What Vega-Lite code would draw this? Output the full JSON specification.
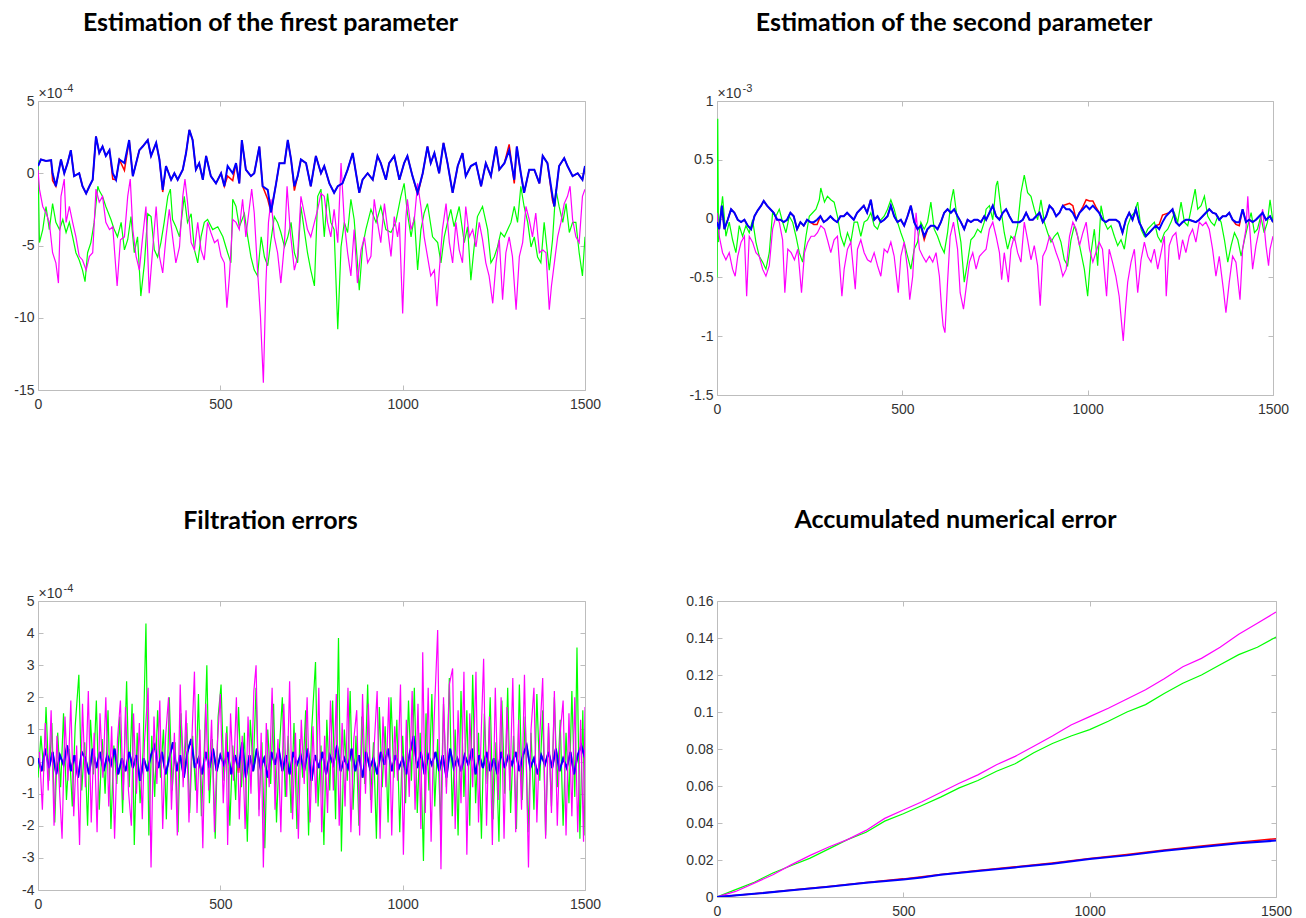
{
"$schema": "https://vega.github.io/schema/vega-lite/v6.json",
"background": "white",
"padding": {"left": 13, "top": 10, "right": 5, "bottom": 5},
"config": {
 "view": {"stroke": "#bdbdbd", "strokeWidth": 1},
 "axis": {"grid": false, "domain": false, "tickColor": "#bdbdbd", "tickSize": -5, "tickWidth": 1, "labelFont": "Liberation Sans", "labelFontSize": 14, "labelColor": "#333333", "labelFlush": false, "labelOverlap": false, "labelBound": false, "titleFont": "Liberation Sans", "titleFontSize": 14, "titleFontWeight": "normal", "titleColor": "#333333"},
 "axisX": {"labelPadding": 12},
 "axisY": {"labelPadding": 9},
 "title": {"font": "Lato", "fontSize": 25, "fontWeight": "bold", "color": "#000000", "anchor": "middle", "frame": "group", "dx": -41}
},
"datasets": {
"A": [
{"s":"r","x":0,"y":0.5},{"s":"r","x":8,"y":0.95},{"s":"r","x":22,"y":0.85},{"s":"r","x":36,"y":0.9},{"s":"r","x":40,"y":-0.5},{"s":"r","x":49,"y":-0.9},{"s":"r","x":63,"y":0.95},{"s":"r","x":72,"y":0},{"s":"r","x":81,"y":0.7},{"s":"r","x":90,"y":1.6},{"s":"r","x":99,"y":-0.2},{"s":"r","x":113,"y":0},{"s":"r","x":122,"y":-0.9},{"s":"r","x":132,"y":-1.4},{"s":"r","x":141,"y":-0.9},{"s":"r","x":150,"y":-0.45},{"s":"r","x":159,"y":2.55},{"s":"r","x":168,"y":1.4},{"s":"r","x":177,"y":1.85},{"s":"r","x":186,"y":1.2},{"s":"r","x":196,"y":1.6},{"s":"r","x":205,"y":-0.4},{"s":"r","x":214,"y":-0.45},{"s":"r","x":223,"y":0.95},{"s":"r","x":237,"y":0.2},{"s":"r","x":250,"y":2.3},{"s":"r","x":260,"y":-0.2},{"s":"r","x":269,"y":0.7},{"s":"r","x":278,"y":1.6},{"s":"r","x":287,"y":1.85},{"s":"r","x":301,"y":2.3},{"s":"r","x":310,"y":1.2},{"s":"r","x":324,"y":2.1},{"s":"r","x":333,"y":0.95},{"s":"r","x":342,"y":-1.3},{"s":"r","x":351,"y":0.5},{"s":"r","x":365,"y":-0.45},{"s":"r","x":374,"y":0},{"s":"r","x":383,"y":-0.45},{"s":"r","x":397,"y":0.25},{"s":"r","x":406,"y":1.4},{"s":"r","x":415,"y":3.0},{"s":"r","x":424,"y":2.3},{"s":"r","x":433,"y":0.25},{"s":"r","x":442,"y":0.7},{"s":"r","x":452,"y":-0.45},{"s":"r","x":461,"y":1.2},{"s":"r","x":474,"y":-0.2},{"s":"r","x":488,"y":-0.7},{"s":"r","x":502,"y":0},{"s":"r","x":511,"y":-0.9},{"s":"r","x":520,"y":-0.2},{"s":"r","x":534,"y":-0.5},{"s":"r","x":543,"y":0.7},{"s":"r","x":552,"y":-0.7},{"s":"r","x":559,"y":2.3},{"s":"r","x":570,"y":0.25},{"s":"r","x":584,"y":-0.2},{"s":"r","x":593,"y":0},{"s":"r","x":607,"y":1.85},{"s":"r","x":616,"y":-0.9},{"s":"r","x":630,"y":-1.8},{"s":"r","x":639,"y":-2.7},{"s":"r","x":653,"y":-0.7},{"s":"r","x":662,"y":0.7},{"s":"r","x":676,"y":0.7},{"s":"r","x":685,"y":2.3},{"s":"r","x":694,"y":0.95},{"s":"r","x":703,"y":-1.2},{"s":"r","x":712,"y":-0.2},{"s":"r","x":721,"y":0.95},{"s":"r","x":735,"y":0.7},{"s":"r","x":748,"y":-0.9},{"s":"r","x":762,"y":1.2},{"s":"r","x":776,"y":0},{"s":"r","x":785,"y":0.5},{"s":"r","x":799,"y":-0.7},{"s":"r","x":812,"y":-1.35},{"s":"r","x":822,"y":-0.9},{"s":"r","x":835,"y":-0.7},{"s":"r","x":849,"y":0.25},{"s":"r","x":863,"y":1.4},{"s":"r","x":872,"y":0},{"s":"r","x":881,"y":-1.35},{"s":"r","x":890,"y":-0.45},{"s":"r","x":904,"y":0},{"s":"r","x":918,"y":-0.45},{"s":"r","x":931,"y":1.2},{"s":"r","x":940,"y":0.7},{"s":"r","x":954,"y":-0.45},{"s":"r","x":963,"y":0.7},{"s":"r","x":977,"y":1.2},{"s":"r","x":991,"y":-0.45},{"s":"r","x":1004,"y":0.7},{"s":"r","x":1013,"y":1.2},{"s":"r","x":1027,"y":-0.2},{"s":"r","x":1041,"y":-1.5},{"s":"r","x":1055,"y":0},{"s":"r","x":1068,"y":1.85},{"s":"r","x":1077,"y":0.7},{"s":"r","x":1087,"y":1.4},{"s":"r","x":1100,"y":0},{"s":"r","x":1112,"y":2.1},{"s":"r","x":1123,"y":0.7},{"s":"r","x":1137,"y":-1.35},{"s":"r","x":1151,"y":0.5},{"s":"r","x":1164,"y":1.4},{"s":"r","x":1173,"y":-0.2},{"s":"r","x":1187,"y":0.5},{"s":"r","x":1201,"y":0.7},{"s":"r","x":1215,"y":-0.9},{"s":"r","x":1228,"y":0.7},{"s":"r","x":1242,"y":-0.2},{"s":"r","x":1256,"y":1.85},{"s":"r","x":1265,"y":0.25},{"s":"r","x":1279,"y":0.7},{"s":"r","x":1292,"y":2.0},{"s":"r","x":1306,"y":-0.7},{"s":"r","x":1313,"y":1.85},{"s":"r","x":1324,"y":0},{"s":"r","x":1333,"y":-1.35},{"s":"r","x":1347,"y":0.25},{"s":"r","x":1361,"y":0.25},{"s":"r","x":1375,"y":-0.7},{"s":"r","x":1384,"y":1.2},{"s":"r","x":1397,"y":0.7},{"s":"r","x":1411,"y":-1.9},{"s":"r","x":1416,"y":-2.3},{"s":"r","x":1429,"y":0.5},{"s":"r","x":1443,"y":1.05},{"s":"r","x":1452,"y":0.5},{"s":"r","x":1466,"y":-0.2},{"s":"r","x":1480,"y":0},{"s":"r","x":1493,"y":-0.45},{"s":"r","x":1500,"y":0.5},
{"s":"g","x":0,"y":0.9},{"s":"g","x":4,"y":-4.8},{"s":"g","x":13,"y":-3.9},{"s":"g","x":22,"y":-2.3},{"s":"g","x":31,"y":-3.9},{"s":"g","x":40,"y":-2.1},{"s":"g","x":49,"y":-3.4},{"s":"g","x":59,"y":-3.9},{"s":"g","x":68,"y":-3.2},{"s":"g","x":77,"y":-4.1},{"s":"g","x":86,"y":-3.4},{"s":"g","x":95,"y":-4.4},{"s":"g","x":104,"y":-5.5},{"s":"g","x":113,"y":-6.0},{"s":"g","x":122,"y":-6.7},{"s":"g","x":129,"y":-7.5},{"s":"g","x":136,"y":-5.5},{"s":"g","x":145,"y":-4.8},{"s":"g","x":154,"y":-3.4},{"s":"g","x":164,"y":-0.9},{"s":"g","x":168,"y":-1.2},{"s":"g","x":177,"y":-1.6},{"s":"g","x":186,"y":-2.3},{"s":"g","x":200,"y":-3.2},{"s":"g","x":209,"y":-3.9},{"s":"g","x":218,"y":-4.4},{"s":"g","x":228,"y":-3.4},{"s":"g","x":237,"y":-5.3},{"s":"g","x":246,"y":-4.6},{"s":"g","x":255,"y":-3.0},{"s":"g","x":264,"y":-5.5},{"s":"g","x":273,"y":-4.4},{"s":"g","x":282,"y":-8.5},{"s":"g","x":292,"y":-6.2},{"s":"g","x":301,"y":-2.8},{"s":"g","x":310,"y":-3.0},{"s":"g","x":319,"y":-5.3},{"s":"g","x":328,"y":-5.8},{"s":"g","x":337,"y":-4.8},{"s":"g","x":346,"y":-3.4},{"s":"g","x":356,"y":-1.6},{"s":"g","x":363,"y":-1.1},{"s":"g","x":369,"y":-3.2},{"s":"g","x":378,"y":-3.7},{"s":"g","x":388,"y":-4.4},{"s":"g","x":401,"y":-1.6},{"s":"g","x":410,"y":-3.4},{"s":"g","x":420,"y":-2.8},{"s":"g","x":429,"y":-5.3},{"s":"g","x":438,"y":-6.2},{"s":"g","x":447,"y":-4.4},{"s":"g","x":456,"y":-3.4},{"s":"g","x":465,"y":-3.2},{"s":"g","x":479,"y":-3.9},{"s":"g","x":493,"y":-3.7},{"s":"g","x":507,"y":-4.4},{"s":"g","x":520,"y":-5.5},{"s":"g","x":529,"y":-6.2},{"s":"g","x":534,"y":-1.8},{"s":"g","x":543,"y":-2.3},{"s":"g","x":552,"y":-3.7},{"s":"g","x":566,"y":-2.8},{"s":"g","x":575,"y":-4.4},{"s":"g","x":584,"y":-5.8},{"s":"g","x":593,"y":-6.7},{"s":"g","x":602,"y":-7.1},{"s":"g","x":612,"y":-4.4},{"s":"g","x":621,"y":-5.8},{"s":"g","x":630,"y":-6.4},{"s":"g","x":639,"y":-4.6},{"s":"g","x":648,"y":-3.0},{"s":"g","x":657,"y":-3.4},{"s":"g","x":666,"y":-4.1},{"s":"g","x":676,"y":-5.1},{"s":"g","x":685,"y":-4.4},{"s":"g","x":694,"y":-3.4},{"s":"g","x":703,"y":-5.5},{"s":"g","x":712,"y":-6.2},{"s":"g","x":721,"y":-2.3},{"s":"g","x":730,"y":-3.9},{"s":"g","x":739,"y":-5.5},{"s":"g","x":748,"y":-6.7},{"s":"g","x":758,"y":-7.8},{"s":"g","x":767,"y":-1.6},{"s":"g","x":776,"y":-1.1},{"s":"g","x":785,"y":-4.4},{"s":"g","x":794,"y":-1.4},{"s":"g","x":803,"y":-3.4},{"s":"g","x":812,"y":-3.9},{"s":"g","x":822,"y":-10.8},{"s":"g","x":831,"y":-5.1},{"s":"g","x":840,"y":-3.4},{"s":"g","x":849,"y":-4.1},{"s":"g","x":858,"y":-1.8},{"s":"g","x":867,"y":-3.2},{"s":"g","x":876,"y":-6.2},{"s":"g","x":881,"y":-8.1},{"s":"g","x":890,"y":-5.1},{"s":"g","x":899,"y":-3.9},{"s":"g","x":913,"y":-2.5},{"s":"g","x":927,"y":-3.4},{"s":"g","x":940,"y":-2.3},{"s":"g","x":954,"y":-3.9},{"s":"g","x":968,"y":-4.1},{"s":"g","x":981,"y":-3.4},{"s":"g","x":995,"y":-1.6},{"s":"g","x":1004,"y":-0.7},{"s":"g","x":1013,"y":-2.75},{"s":"g","x":1023,"y":-4.4},{"s":"g","x":1032,"y":-3.0},{"s":"g","x":1041,"y":-6.7},{"s":"g","x":1050,"y":-3.9},{"s":"g","x":1059,"y":-2.75},{"s":"g","x":1068,"y":-2.1},{"s":"g","x":1082,"y":-4.4},{"s":"g","x":1096,"y":-4.8},{"s":"g","x":1105,"y":-6.2},{"s":"g","x":1114,"y":-4.4},{"s":"g","x":1123,"y":-3.4},{"s":"g","x":1132,"y":-2.5},{"s":"g","x":1141,"y":-3.7},{"s":"g","x":1155,"y":-2.3},{"s":"g","x":1169,"y":-4.8},{"s":"g","x":1178,"y":-3.7},{"s":"g","x":1187,"y":-7.4},{"s":"g","x":1196,"y":-5.1},{"s":"g","x":1205,"y":-3.0},{"s":"g","x":1219,"y":-2.3},{"s":"g","x":1233,"y":-3.9},{"s":"g","x":1242,"y":-6.2},{"s":"g","x":1251,"y":-5.8},{"s":"g","x":1260,"y":-5.1},{"s":"g","x":1269,"y":-4.1},{"s":"g","x":1279,"y":-4.4},{"s":"g","x":1288,"y":-3.9},{"s":"g","x":1297,"y":-3.4},{"s":"g","x":1306,"y":-2.3},{"s":"g","x":1315,"y":-3.4},{"s":"g","x":1324,"y":-0.9},{"s":"g","x":1333,"y":-2.3},{"s":"g","x":1343,"y":-3.4},{"s":"g","x":1352,"y":-5.1},{"s":"g","x":1361,"y":-4.4},{"s":"g","x":1370,"y":-5.8},{"s":"g","x":1379,"y":-6.2},{"s":"g","x":1388,"y":-3.4},{"s":"g","x":1402,"y":-6.7},{"s":"g","x":1411,"y":-4.6},{"s":"g","x":1420,"y":-1.1},{"s":"g","x":1429,"y":-2.3},{"s":"g","x":1439,"y":-3.4},{"s":"g","x":1448,"y":-2.1},{"s":"g","x":1457,"y":-4.1},{"s":"g","x":1466,"y":-3.4},{"s":"g","x":1475,"y":-3.4},{"s":"g","x":1484,"y":-5.5},{"s":"g","x":1493,"y":-7.1},{"s":"g","x":1500,"y":-4.4},
{"s":"m","x":0,"y":0.25},{"s":"m","x":4,"y":-1.1},{"s":"m","x":13,"y":-2.3},{"s":"m","x":22,"y":-2.75},{"s":"m","x":31,"y":-3.4},{"s":"m","x":40,"y":-5.5},{"s":"m","x":49,"y":-6.2},{"s":"m","x":56,"y":-7.6},{"s":"m","x":63,"y":-1.6},{"s":"m","x":72,"y":-0.4},{"s":"m","x":77,"y":-3.4},{"s":"m","x":86,"y":-2.3},{"s":"m","x":95,"y":-3.4},{"s":"m","x":104,"y":-4.4},{"s":"m","x":113,"y":-5.75},{"s":"m","x":122,"y":-6.0},{"s":"m","x":132,"y":-6.7},{"s":"m","x":141,"y":-5.75},{"s":"m","x":150,"y":-5.5},{"s":"m","x":159,"y":-1.1},{"s":"m","x":168,"y":-2.0},{"s":"m","x":177,"y":-1.6},{"s":"m","x":186,"y":-3.4},{"s":"m","x":196,"y":-3.9},{"s":"m","x":205,"y":-3.7},{"s":"m","x":217,"y":-7.8},{"s":"m","x":226,"y":-4.6},{"s":"m","x":237,"y":-4.4},{"s":"m","x":246,"y":-1.6},{"s":"m","x":253,"y":-0.4},{"s":"m","x":260,"y":-3.9},{"s":"m","x":269,"y":-5.75},{"s":"m","x":278,"y":-6.7},{"s":"m","x":287,"y":-4.4},{"s":"m","x":296,"y":-2.3},{"s":"m","x":305,"y":-8.3},{"s":"m","x":315,"y":-5.1},{"s":"m","x":324,"y":-2.3},{"s":"m","x":333,"y":-5.75},{"s":"m","x":342,"y":-6.9},{"s":"m","x":351,"y":-4.4},{"s":"m","x":360,"y":-2.5},{"s":"m","x":369,"y":-4.4},{"s":"m","x":378,"y":-6.2},{"s":"m","x":388,"y":-5.1},{"s":"m","x":397,"y":-1.6},{"s":"m","x":403,"y":-0.4},{"s":"m","x":410,"y":-2.0},{"s":"m","x":420,"y":-4.8},{"s":"m","x":429,"y":-5.3},{"s":"m","x":438,"y":-3.4},{"s":"m","x":447,"y":-5.3},{"s":"m","x":456,"y":-6.0},{"s":"m","x":465,"y":-3.4},{"s":"m","x":474,"y":-4.1},{"s":"m","x":484,"y":-4.8},{"s":"m","x":493,"y":-4.6},{"s":"m","x":502,"y":-5.75},{"s":"m","x":511,"y":-6.2},{"s":"m","x":518,"y":-9.3},{"s":"m","x":525,"y":-7.1},{"s":"m","x":534,"y":-3.2},{"s":"m","x":543,"y":-3.4},{"s":"m","x":552,"y":-3.9},{"s":"m","x":561,"y":-1.8},{"s":"m","x":570,"y":-4.4},{"s":"m","x":580,"y":-2.3},{"s":"m","x":586,"y":-1.1},{"s":"m","x":593,"y":-2.75},{"s":"m","x":602,"y":-6.7},{"s":"m","x":610,"y":-9.9},{"s":"m","x":618,"y":-14.5},{"s":"m","x":625,"y":-7.6},{"s":"m","x":632,"y":-3.4},{"s":"m","x":639,"y":-1.8},{"s":"m","x":648,"y":-4.4},{"s":"m","x":657,"y":-5.5},{"s":"m","x":666,"y":-7.6},{"s":"m","x":676,"y":-4.8},{"s":"m","x":683,"y":-0.9},{"s":"m","x":692,"y":-4.1},{"s":"m","x":703,"y":-6.7},{"s":"m","x":712,"y":-5.75},{"s":"m","x":721,"y":-1.6},{"s":"m","x":730,"y":-2.75},{"s":"m","x":739,"y":-3.9},{"s":"m","x":748,"y":-4.4},{"s":"m","x":758,"y":-3.4},{"s":"m","x":767,"y":-2.5},{"s":"m","x":776,"y":-1.4},{"s":"m","x":785,"y":-1.6},{"s":"m","x":794,"y":-3.4},{"s":"m","x":803,"y":-4.4},{"s":"m","x":812,"y":-2.5},{"s":"m","x":822,"y":-4.8},{"s":"m","x":831,"y":0.7},{"s":"m","x":840,"y":-3.4},{"s":"m","x":849,"y":-5.5},{"s":"m","x":858,"y":-7.1},{"s":"m","x":867,"y":-3.9},{"s":"m","x":876,"y":-7.6},{"s":"m","x":886,"y":-5.3},{"s":"m","x":895,"y":-4.4},{"s":"m","x":904,"y":-6.2},{"s":"m","x":913,"y":-5.75},{"s":"m","x":922,"y":-1.8},{"s":"m","x":931,"y":-3.4},{"s":"m","x":940,"y":-4.8},{"s":"m","x":950,"y":-2.1},{"s":"m","x":959,"y":-3.9},{"s":"m","x":968,"y":-5.75},{"s":"m","x":977,"y":-3.0},{"s":"m","x":986,"y":-4.4},{"s":"m","x":991,"y":-3.4},{"s":"m","x":1000,"y":-9.7},{"s":"m","x":1009,"y":-3.0},{"s":"m","x":1013,"y":-1.8},{"s":"m","x":1023,"y":-3.9},{"s":"m","x":1032,"y":-3.2},{"s":"m","x":1041,"y":-0.7},{"s":"m","x":1050,"y":-2.3},{"s":"m","x":1059,"y":-4.4},{"s":"m","x":1068,"y":-5.75},{"s":"m","x":1077,"y":-7.1},{"s":"m","x":1087,"y":-6.7},{"s":"m","x":1094,"y":-9.2},{"s":"m","x":1100,"y":-6.9},{"s":"m","x":1109,"y":-3.9},{"s":"m","x":1119,"y":-2.1},{"s":"m","x":1128,"y":-4.8},{"s":"m","x":1137,"y":-6.2},{"s":"m","x":1146,"y":-3.4},{"s":"m","x":1155,"y":-5.3},{"s":"m","x":1164,"y":-6.2},{"s":"m","x":1173,"y":-2.3},{"s":"m","x":1183,"y":-4.4},{"s":"m","x":1192,"y":-3.9},{"s":"m","x":1201,"y":-5.1},{"s":"m","x":1210,"y":-3.4},{"s":"m","x":1219,"y":-4.6},{"s":"m","x":1228,"y":-6.2},{"s":"m","x":1237,"y":-7.1},{"s":"m","x":1247,"y":-9.0},{"s":"m","x":1256,"y":-6.2},{"s":"m","x":1265,"y":-4.6},{"s":"m","x":1274,"y":-8.75},{"s":"m","x":1283,"y":-5.5},{"s":"m","x":1292,"y":-4.4},{"s":"m","x":1301,"y":-5.75},{"s":"m","x":1311,"y":-9.45},{"s":"m","x":1320,"y":-5.75},{"s":"m","x":1329,"y":-4.8},{"s":"m","x":1338,"y":-2.3},{"s":"m","x":1347,"y":-3.2},{"s":"m","x":1356,"y":-4.4},{"s":"m","x":1365,"y":-2.75},{"s":"m","x":1375,"y":-5.5},{"s":"m","x":1384,"y":-5.3},{"s":"m","x":1393,"y":-5.5},{"s":"m","x":1402,"y":-9.45},{"s":"m","x":1408,"y":-7.8},{"s":"m","x":1416,"y":-6.2},{"s":"m","x":1425,"y":-4.4},{"s":"m","x":1434,"y":-3.4},{"s":"m","x":1443,"y":-2.1},{"s":"m","x":1452,"y":-1.6},{"s":"m","x":1459,"y":-0.9},{"s":"m","x":1466,"y":-3.2},{"s":"m","x":1475,"y":-4.4},{"s":"m","x":1484,"y":-4.8},{"s":"m","x":1493,"y":-1.6},{"s":"m","x":1500,"y":-1.1},
{"s":"b","x":0,"y":0.5},{"s":"b","x":8,"y":0.95},{"s":"b","x":22,"y":0.85},{"s":"b","x":36,"y":0.9},{"s":"b","x":40,"y":0},{"s":"b","x":49,"y":-0.9},{"s":"b","x":63,"y":0.95},{"s":"b","x":72,"y":0},{"s":"b","x":81,"y":0.7},{"s":"b","x":90,"y":1.6},{"s":"b","x":99,"y":-0.2},{"s":"b","x":113,"y":0},{"s":"b","x":122,"y":-0.9},{"s":"b","x":132,"y":-1.4},{"s":"b","x":141,"y":-0.9},{"s":"b","x":150,"y":-0.45},{"s":"b","x":159,"y":2.55},{"s":"b","x":168,"y":1.4},{"s":"b","x":177,"y":1.85},{"s":"b","x":186,"y":1.2},{"s":"b","x":196,"y":1.6},{"s":"b","x":205,"y":0},{"s":"b","x":214,"y":-0.45},{"s":"b","x":223,"y":0.95},{"s":"b","x":237,"y":0.7},{"s":"b","x":250,"y":2.3},{"s":"b","x":260,"y":-0.2},{"s":"b","x":269,"y":0.7},{"s":"b","x":278,"y":1.6},{"s":"b","x":287,"y":1.85},{"s":"b","x":301,"y":2.3},{"s":"b","x":310,"y":1.2},{"s":"b","x":324,"y":2.1},{"s":"b","x":333,"y":0.95},{"s":"b","x":342,"y":-1.15},{"s":"b","x":351,"y":0.5},{"s":"b","x":365,"y":-0.45},{"s":"b","x":374,"y":0},{"s":"b","x":383,"y":-0.45},{"s":"b","x":397,"y":0.25},{"s":"b","x":406,"y":1.4},{"s":"b","x":415,"y":3.0},{"s":"b","x":424,"y":2.3},{"s":"b","x":433,"y":0.25},{"s":"b","x":442,"y":0.7},{"s":"b","x":452,"y":-0.45},{"s":"b","x":461,"y":1.2},{"s":"b","x":474,"y":-0.2},{"s":"b","x":488,"y":-0.7},{"s":"b","x":502,"y":0},{"s":"b","x":511,"y":-0.9},{"s":"b","x":520,"y":0.5},{"s":"b","x":534,"y":0},{"s":"b","x":543,"y":0.7},{"s":"b","x":552,"y":-0.7},{"s":"b","x":559,"y":2.3},{"s":"b","x":570,"y":0.25},{"s":"b","x":584,"y":-0.2},{"s":"b","x":593,"y":0},{"s":"b","x":607,"y":1.85},{"s":"b","x":616,"y":-0.9},{"s":"b","x":630,"y":-1.15},{"s":"b","x":639,"y":-2.7},{"s":"b","x":653,"y":-0.7},{"s":"b","x":662,"y":0.7},{"s":"b","x":676,"y":0.7},{"s":"b","x":685,"y":2.3},{"s":"b","x":694,"y":0.95},{"s":"b","x":703,"y":-0.9},{"s":"b","x":712,"y":-0.2},{"s":"b","x":721,"y":0.95},{"s":"b","x":735,"y":0.7},{"s":"b","x":748,"y":-0.9},{"s":"b","x":762,"y":1.2},{"s":"b","x":776,"y":0},{"s":"b","x":785,"y":0.5},{"s":"b","x":799,"y":-0.7},{"s":"b","x":812,"y":-1.35},{"s":"b","x":822,"y":-0.9},{"s":"b","x":835,"y":-0.7},{"s":"b","x":849,"y":0.25},{"s":"b","x":863,"y":1.4},{"s":"b","x":872,"y":0},{"s":"b","x":881,"y":-1.35},{"s":"b","x":890,"y":-0.45},{"s":"b","x":904,"y":0},{"s":"b","x":918,"y":-0.45},{"s":"b","x":931,"y":1.2},{"s":"b","x":940,"y":0.7},{"s":"b","x":954,"y":-0.45},{"s":"b","x":963,"y":0.7},{"s":"b","x":977,"y":1.2},{"s":"b","x":991,"y":-0.45},{"s":"b","x":1004,"y":0.7},{"s":"b","x":1013,"y":1.2},{"s":"b","x":1027,"y":-0.2},{"s":"b","x":1041,"y":-1.35},{"s":"b","x":1055,"y":0},{"s":"b","x":1068,"y":1.85},{"s":"b","x":1077,"y":0.7},{"s":"b","x":1087,"y":1.4},{"s":"b","x":1100,"y":0},{"s":"b","x":1112,"y":2.1},{"s":"b","x":1123,"y":0.7},{"s":"b","x":1137,"y":-1.35},{"s":"b","x":1151,"y":0.5},{"s":"b","x":1164,"y":1.4},{"s":"b","x":1173,"y":-0.2},{"s":"b","x":1187,"y":0.5},{"s":"b","x":1201,"y":0.7},{"s":"b","x":1215,"y":-0.9},{"s":"b","x":1228,"y":0.7},{"s":"b","x":1242,"y":-0.2},{"s":"b","x":1256,"y":1.85},{"s":"b","x":1265,"y":0.25},{"s":"b","x":1279,"y":0.7},{"s":"b","x":1292,"y":1.6},{"s":"b","x":1306,"y":-0.45},{"s":"b","x":1313,"y":1.85},{"s":"b","x":1324,"y":0},{"s":"b","x":1333,"y":-1.35},{"s":"b","x":1347,"y":0.25},{"s":"b","x":1361,"y":0.25},{"s":"b","x":1375,"y":-0.7},{"s":"b","x":1384,"y":1.2},{"s":"b","x":1397,"y":0.7},{"s":"b","x":1411,"y":-1.6},{"s":"b","x":1416,"y":-2.3},{"s":"b","x":1429,"y":0.5},{"s":"b","x":1443,"y":1.05},{"s":"b","x":1452,"y":0.5},{"s":"b","x":1466,"y":-0.2},{"s":"b","x":1480,"y":0},{"s":"b","x":1493,"y":-0.45},{"s":"b","x":1500,"y":0.5}
],
"B": [
{"s":"r","x":0,"y":-0.03},{"s":"r","x":6,"y":-0.09},{"s":"r","x":13,"y":0.11},{"s":"r","x":20,"y":-0.09},{"s":"r","x":29,"y":-0.01},{"s":"r","x":38,"y":0.08},{"s":"r","x":47,"y":0.05},{"s":"r","x":56,"y":-0.01},{"s":"r","x":65,"y":-0.03},{"s":"r","x":74,"y":-0.01},{"s":"r","x":83,"y":-0.06},{"s":"r","x":92,"y":-0.09},{"s":"r","x":101,"y":0.02},{"s":"r","x":110,"y":0.07},{"s":"r","x":119,"y":0.11},{"s":"r","x":126,"y":0.15},{"s":"r","x":135,"y":0.11},{"s":"r","x":144,"y":0.08},{"s":"r","x":153,"y":0.05},{"s":"r","x":162,"y":-0.01},{"s":"r","x":171,"y":-0.01},{"s":"r","x":180,"y":-0.03},{"s":"r","x":189,"y":-0.01},{"s":"r","x":198,"y":0.05},{"s":"r","x":207,"y":0.02},{"s":"r","x":216,"y":-0.09},{"s":"r","x":225,"y":-0.03},{"s":"r","x":234,"y":-0.06},{"s":"r","x":243,"y":-0.01},{"s":"r","x":252,"y":-0.03},{"s":"r","x":261,"y":-0.05},{"s":"r","x":270,"y":-0.05},{"s":"r","x":279,"y":0.02},{"s":"r","x":288,"y":-0.03},{"s":"r","x":297,"y":-0.01},{"s":"r","x":306,"y":0.02},{"s":"r","x":315,"y":-0.01},{"s":"r","x":324,"y":-0.03},{"s":"r","x":333,"y":0.02},{"s":"r","x":342,"y":0.02},{"s":"r","x":351,"y":0.05},{"s":"r","x":360,"y":0.02},{"s":"r","x":369,"y":-0.01},{"s":"r","x":378,"y":0.05},{"s":"r","x":387,"y":0.08},{"s":"r","x":396,"y":0.11},{"s":"r","x":405,"y":0.05},{"s":"r","x":415,"y":0.16},{"s":"r","x":424,"y":-0.01},{"s":"r","x":433,"y":0.02},{"s":"r","x":442,"y":-0.03},{"s":"r","x":451,"y":-0.01},{"s":"r","x":460,"y":0.02},{"s":"r","x":469,"y":0.11},{"s":"r","x":478,"y":0.02},{"s":"r","x":487,"y":-0.03},{"s":"r","x":496,"y":-0.01},{"s":"r","x":505,"y":-0.06},{"s":"r","x":514,"y":0.02},{"s":"r","x":523,"y":0.11},{"s":"r","x":532,"y":-0.03},{"s":"r","x":541,"y":-0.09},{"s":"r","x":550,"y":-0.06},{"s":"r","x":559,"y":-0.18},{"s":"r","x":568,"y":-0.09},{"s":"r","x":577,"y":-0.06},{"s":"r","x":586,"y":-0.06},{"s":"r","x":595,"y":-0.09},{"s":"r","x":604,"y":-0.03},{"s":"r","x":613,"y":0.05},{"s":"r","x":622,"y":0.08},{"s":"r","x":631,"y":0.05},{"s":"r","x":640,"y":0.08},{"s":"r","x":649,"y":0.02},{"s":"r","x":658,"y":-0.03},{"s":"r","x":667,"y":-0.09},{"s":"r","x":676,"y":-0.01},{"s":"r","x":685,"y":-0.03},{"s":"r","x":694,"y":-0.01},{"s":"r","x":703,"y":-0.01},{"s":"r","x":712,"y":-0.03},{"s":"r","x":721,"y":0.02},{"s":"r","x":726,"y":-0.01},{"s":"r","x":735,"y":0.05},{"s":"r","x":744,"y":0.11},{"s":"r","x":753,"y":0.02},{"s":"r","x":762,"y":-0.01},{"s":"r","x":771,"y":0.05},{"s":"r","x":780,"y":0.08},{"s":"r","x":789,"y":0.02},{"s":"r","x":798,"y":-0.03},{"s":"r","x":807,"y":-0.03},{"s":"r","x":816,"y":-0.03},{"s":"r","x":825,"y":-0.01},{"s":"r","x":834,"y":0.05},{"s":"r","x":843,"y":-0.01},{"s":"r","x":852,"y":-0.01},{"s":"r","x":861,"y":0.02},{"s":"r","x":870,"y":0.05},{"s":"r","x":879,"y":-0.03},{"s":"r","x":888,"y":0.02},{"s":"r","x":897,"y":0.11},{"s":"r","x":906,"y":0.08},{"s":"r","x":915,"y":0.02},{"s":"r","x":924,"y":0.05},{"s":"r","x":933,"y":0.11},{"s":"r","x":942,"y":0.12},{"s":"r","x":951,"y":0.13},{"s":"r","x":960,"y":0.11},{"s":"r","x":969,"y":-0.01},{"s":"r","x":978,"y":0.05},{"s":"r","x":987,"y":0.1},{"s":"r","x":996,"y":0.16},{"s":"r","x":1005,"y":0.15},{"s":"r","x":1014,"y":0.15},{"s":"r","x":1022,"y":0.1},{"s":"r","x":1031,"y":0.05},{"s":"r","x":1040,"y":-0.01},{"s":"r","x":1049,"y":-0.03},{"s":"r","x":1058,"y":-0.01},{"s":"r","x":1067,"y":-0.01},{"s":"r","x":1076,"y":-0.01},{"s":"r","x":1085,"y":-0.03},{"s":"r","x":1094,"y":-0.12},{"s":"r","x":1103,"y":-0.01},{"s":"r","x":1112,"y":0.05},{"s":"r","x":1121,"y":-0.01},{"s":"r","x":1130,"y":0.08},{"s":"r","x":1139,"y":-0.03},{"s":"r","x":1148,"y":-0.09},{"s":"r","x":1157,"y":-0.15},{"s":"r","x":1166,"y":-0.12},{"s":"r","x":1175,"y":-0.09},{"s":"r","x":1184,"y":-0.06},{"s":"r","x":1193,"y":-0.05},{"s":"r","x":1202,"y":0.03},{"s":"r","x":1211,"y":0.04},{"s":"r","x":1220,"y":0.05},{"s":"r","x":1229,"y":0.08},{"s":"r","x":1238,"y":-0.03},{"s":"r","x":1247,"y":-0.06},{"s":"r","x":1256,"y":-0.03},{"s":"r","x":1265,"y":-0.01},{"s":"r","x":1274,"y":-0.01},{"s":"r","x":1283,"y":-0.02},{"s":"r","x":1292,"y":-0.03},{"s":"r","x":1301,"y":-0.01},{"s":"r","x":1310,"y":0.02},{"s":"r","x":1319,"y":0.05},{"s":"r","x":1328,"y":0.08},{"s":"r","x":1337,"y":0.05},{"s":"r","x":1346,"y":0.04},{"s":"r","x":1355,"y":-0.01},{"s":"r","x":1364,"y":0.02},{"s":"r","x":1373,"y":0.02},{"s":"r","x":1382,"y":0.05},{"s":"r","x":1391,"y":-0.01},{"s":"r","x":1400,"y":-0.05},{"s":"r","x":1409,"y":-0.06},{"s":"r","x":1418,"y":0.08},{"s":"r","x":1427,"y":-0.03},{"s":"r","x":1436,"y":-0.01},{"s":"r","x":1445,"y":-0.03},{"s":"r","x":1454,"y":-0.01},{"s":"r","x":1463,"y":0.02},{"s":"r","x":1472,"y":0.05},{"s":"r","x":1481,"y":-0.01},{"s":"r","x":1492,"y":0.02},{"s":"r","x":1500,"y":-0.03},
{"s":"g","x":0,"y":-0.5},{"s":"g","x":2,"y":0.85},{"s":"g","x":4,"y":-0.2},{"s":"g","x":6,"y":-0.06},{"s":"g","x":15,"y":0.19},{"s":"g","x":24,"y":-0.15},{"s":"g","x":33,"y":-0.03},{"s":"g","x":42,"y":-0.18},{"s":"g","x":51,"y":-0.29},{"s":"g","x":60,"y":-0.06},{"s":"g","x":69,"y":-0.15},{"s":"g","x":78,"y":-0.06},{"s":"g","x":87,"y":-0.12},{"s":"g","x":96,"y":-0.01},{"s":"g","x":105,"y":-0.2},{"s":"g","x":114,"y":-0.32},{"s":"g","x":123,"y":-0.37},{"s":"g","x":132,"y":-0.43},{"s":"g","x":141,"y":-0.29},{"s":"g","x":150,"y":0.05},{"s":"g","x":159,"y":0.02},{"s":"g","x":168,"y":0.08},{"s":"g","x":177,"y":-0.03},{"s":"g","x":186,"y":-0.12},{"s":"g","x":195,"y":0.02},{"s":"g","x":204,"y":-0.03},{"s":"g","x":213,"y":-0.15},{"s":"g","x":222,"y":-0.29},{"s":"g","x":231,"y":-0.37},{"s":"g","x":240,"y":-0.15},{"s":"g","x":249,"y":0.02},{"s":"g","x":258,"y":0.05},{"s":"g","x":267,"y":0.08},{"s":"g","x":276,"y":0.16},{"s":"g","x":280,"y":0.26},{"s":"g","x":290,"y":0.14},{"s":"g","x":298,"y":0.19},{"s":"g","x":307,"y":0.16},{"s":"g","x":316,"y":0.14},{"s":"g","x":325,"y":0.02},{"s":"g","x":334,"y":-0.15},{"s":"g","x":343,"y":-0.23},{"s":"g","x":352,"y":-0.12},{"s":"g","x":361,"y":-0.2},{"s":"g","x":370,"y":-0.03},{"s":"g","x":379,"y":-0.03},{"s":"g","x":388,"y":-0.15},{"s":"g","x":397,"y":-0.03},{"s":"g","x":406,"y":-0.01},{"s":"g","x":415,"y":0.05},{"s":"g","x":424,"y":-0.06},{"s":"g","x":433,"y":-0.09},{"s":"g","x":442,"y":-0.01},{"s":"g","x":451,"y":0.02},{"s":"g","x":460,"y":0.08},{"s":"g","x":469,"y":0.16},{"s":"g","x":478,"y":0.08},{"s":"g","x":487,"y":-0.03},{"s":"g","x":496,"y":-0.12},{"s":"g","x":505,"y":-0.2},{"s":"g","x":514,"y":-0.32},{"s":"g","x":523,"y":-0.43},{"s":"g","x":532,"y":-0.26},{"s":"g","x":541,"y":-0.2},{"s":"g","x":550,"y":-0.03},{"s":"g","x":559,"y":-0.09},{"s":"g","x":568,"y":-0.03},{"s":"g","x":577,"y":0.14},{"s":"g","x":586,"y":-0.09},{"s":"g","x":595,"y":-0.15},{"s":"g","x":604,"y":-0.23},{"s":"g","x":613,"y":-0.29},{"s":"g","x":622,"y":-0.12},{"s":"g","x":631,"y":0.14},{"s":"g","x":638,"y":0.25},{"s":"g","x":649,"y":-0.03},{"s":"g","x":658,"y":-0.2},{"s":"g","x":667,"y":-0.54},{"s":"g","x":676,"y":-0.37},{"s":"g","x":685,"y":-0.18},{"s":"g","x":694,"y":-0.15},{"s":"g","x":703,"y":-0.09},{"s":"g","x":712,"y":-0.12},{"s":"g","x":721,"y":-0.03},{"s":"g","x":726,"y":0.08},{"s":"g","x":735,"y":0.11},{"s":"g","x":744,"y":-0.01},{"s":"g","x":753,"y":0.28},{"s":"g","x":757,"y":0.32},{"s":"g","x":766,"y":0.08},{"s":"g","x":775,"y":-0.12},{"s":"g","x":784,"y":-0.26},{"s":"g","x":793,"y":-0.15},{"s":"g","x":802,"y":-0.18},{"s":"g","x":811,"y":-0.06},{"s":"g","x":820,"y":0.22},{"s":"g","x":829,"y":0.37},{"s":"g","x":838,"y":0.22},{"s":"g","x":847,"y":0.19},{"s":"g","x":856,"y":0.08},{"s":"g","x":865,"y":-0.01},{"s":"g","x":874,"y":0.16},{"s":"g","x":883,"y":-0.03},{"s":"g","x":892,"y":-0.12},{"s":"g","x":901,"y":-0.2},{"s":"g","x":910,"y":-0.15},{"s":"g","x":919,"y":-0.12},{"s":"g","x":928,"y":-0.2},{"s":"g","x":937,"y":-0.35},{"s":"g","x":946,"y":-0.4},{"s":"g","x":955,"y":-0.18},{"s":"g","x":964,"y":-0.06},{"s":"g","x":973,"y":-0.15},{"s":"g","x":982,"y":-0.29},{"s":"g","x":991,"y":-0.43},{"s":"g","x":1000,"y":-0.66},{"s":"g","x":1009,"y":-0.29},{"s":"g","x":1018,"y":-0.09},{"s":"g","x":1027,"y":-0.4},{"s":"g","x":1036,"y":0.11},{"s":"g","x":1045,"y":-0.03},{"s":"g","x":1054,"y":-0.09},{"s":"g","x":1063,"y":-0.06},{"s":"g","x":1072,"y":-0.15},{"s":"g","x":1081,"y":-0.23},{"s":"g","x":1090,"y":-0.18},{"s":"g","x":1099,"y":-0.26},{"s":"g","x":1108,"y":-0.06},{"s":"g","x":1117,"y":0.02},{"s":"g","x":1126,"y":0.05},{"s":"g","x":1135,"y":0.14},{"s":"g","x":1144,"y":-0.09},{"s":"g","x":1153,"y":-0.15},{"s":"g","x":1162,"y":-0.09},{"s":"g","x":1171,"y":-0.06},{"s":"g","x":1180,"y":-0.03},{"s":"g","x":1189,"y":-0.15},{"s":"g","x":1198,"y":-0.2},{"s":"g","x":1207,"y":-0.12},{"s":"g","x":1216,"y":-0.09},{"s":"g","x":1225,"y":-0.03},{"s":"g","x":1234,"y":0.05},{"s":"g","x":1243,"y":-0.03},{"s":"g","x":1252,"y":0.14},{"s":"g","x":1261,"y":-0.03},{"s":"g","x":1270,"y":-0.06},{"s":"g","x":1279,"y":0.08},{"s":"g","x":1290,"y":0.25},{"s":"g","x":1297,"y":0.08},{"s":"g","x":1306,"y":0.11},{"s":"g","x":1315,"y":0.19},{"s":"g","x":1324,"y":0.02},{"s":"g","x":1333,"y":-0.03},{"s":"g","x":1342,"y":-0.06},{"s":"g","x":1351,"y":0.02},{"s":"g","x":1360,"y":-0.03},{"s":"g","x":1369,"y":-0.18},{"s":"g","x":1378,"y":-0.37},{"s":"g","x":1387,"y":-0.23},{"s":"g","x":1396,"y":-0.12},{"s":"g","x":1405,"y":-0.18},{"s":"g","x":1414,"y":-0.32},{"s":"g","x":1423,"y":-0.18},{"s":"g","x":1432,"y":-0.06},{"s":"g","x":1441,"y":0.05},{"s":"g","x":1450,"y":-0.12},{"s":"g","x":1458,"y":-0.09},{"s":"g","x":1467,"y":0.02},{"s":"g","x":1476,"y":-0.12},{"s":"g","x":1485,"y":-0.03},{"s":"g","x":1492,"y":0.16},{"s":"g","x":1500,"y":-0.03},
{"s":"m","x":0,"y":0.05},{"s":"m","x":6,"y":-0.15},{"s":"m","x":15,"y":-0.29},{"s":"m","x":24,"y":-0.35},{"s":"m","x":33,"y":-0.29},{"s":"m","x":42,"y":-0.43},{"s":"m","x":49,"y":-0.49},{"s":"m","x":56,"y":-0.32},{"s":"m","x":65,"y":-0.2},{"s":"m","x":74,"y":-0.15},{"s":"m","x":80,"y":-0.66},{"s":"m","x":87,"y":-0.15},{"s":"m","x":96,"y":-0.2},{"s":"m","x":105,"y":-0.29},{"s":"m","x":114,"y":-0.32},{"s":"m","x":123,"y":-0.43},{"s":"m","x":132,"y":-0.49},{"s":"m","x":141,"y":-0.4},{"s":"m","x":150,"y":-0.09},{"s":"m","x":159,"y":0.02},{"s":"m","x":168,"y":-0.03},{"s":"m","x":177,"y":-0.18},{"s":"m","x":183,"y":-0.63},{"s":"m","x":191,"y":-0.26},{"s":"m","x":200,"y":-0.29},{"s":"m","x":209,"y":-0.35},{"s":"m","x":218,"y":-0.26},{"s":"m","x":228,"y":-0.63},{"s":"m","x":236,"y":-0.29},{"s":"m","x":245,"y":-0.2},{"s":"m","x":254,"y":-0.15},{"s":"m","x":263,"y":-0.15},{"s":"m","x":271,"y":-0.12},{"s":"m","x":280,"y":-0.06},{"s":"m","x":290,"y":-0.09},{"s":"m","x":298,"y":-0.18},{"s":"m","x":307,"y":-0.29},{"s":"m","x":316,"y":-0.18},{"s":"m","x":325,"y":-0.15},{"s":"m","x":337,"y":-0.66},{"s":"m","x":343,"y":-0.43},{"s":"m","x":352,"y":-0.26},{"s":"m","x":361,"y":-0.2},{"s":"m","x":373,"y":-0.6},{"s":"m","x":379,"y":-0.26},{"s":"m","x":388,"y":-0.18},{"s":"m","x":397,"y":-0.29},{"s":"m","x":406,"y":-0.35},{"s":"m","x":415,"y":-0.37},{"s":"m","x":424,"y":-0.29},{"s":"m","x":433,"y":-0.4},{"s":"m","x":442,"y":-0.49},{"s":"m","x":451,"y":-0.26},{"s":"m","x":460,"y":-0.29},{"s":"m","x":469,"y":-0.2},{"s":"m","x":478,"y":-0.32},{"s":"m","x":489,"y":-0.63},{"s":"m","x":496,"y":-0.32},{"s":"m","x":505,"y":-0.2},{"s":"m","x":514,"y":-0.43},{"s":"m","x":520,"y":-0.69},{"s":"m","x":528,"y":-0.49},{"s":"m","x":537,"y":0.05},{"s":"m","x":546,"y":-0.26},{"s":"m","x":555,"y":-0.32},{"s":"m","x":564,"y":-0.37},{"s":"m","x":573,"y":-0.32},{"s":"m","x":582,"y":-0.37},{"s":"m","x":591,"y":-0.29},{"s":"m","x":600,"y":-0.49},{"s":"m","x":606,"y":-0.77},{"s":"m","x":610,"y":-0.91},{"s":"m","x":615,"y":-0.97},{"s":"m","x":622,"y":-0.54},{"s":"m","x":629,"y":-0.15},{"s":"m","x":638,"y":-0.03},{"s":"m","x":649,"y":-0.26},{"s":"m","x":656,"y":-0.63},{"s":"m","x":665,"y":-0.77},{"s":"m","x":674,"y":-0.54},{"s":"m","x":681,"y":-0.37},{"s":"m","x":690,"y":-0.29},{"s":"m","x":699,"y":-0.43},{"s":"m","x":708,"y":-0.32},{"s":"m","x":717,"y":-0.29},{"s":"m","x":726,"y":-0.26},{"s":"m","x":735,"y":-0.09},{"s":"m","x":744,"y":-0.03},{"s":"m","x":753,"y":-0.15},{"s":"m","x":762,"y":-0.29},{"s":"m","x":768,"y":-0.52},{"s":"m","x":775,"y":-0.29},{"s":"m","x":786,"y":-0.54},{"s":"m","x":793,"y":-0.26},{"s":"m","x":802,"y":-0.15},{"s":"m","x":811,"y":-0.29},{"s":"m","x":820,"y":-0.37},{"s":"m","x":829,"y":-0.03},{"s":"m","x":838,"y":-0.18},{"s":"m","x":847,"y":-0.35},{"s":"m","x":856,"y":-0.23},{"s":"m","x":865,"y":-0.4},{"s":"m","x":872,"y":-0.74},{"s":"m","x":879,"y":-0.32},{"s":"m","x":888,"y":-0.26},{"s":"m","x":897,"y":-0.15},{"s":"m","x":906,"y":-0.2},{"s":"m","x":915,"y":-0.29},{"s":"m","x":924,"y":-0.37},{"s":"m","x":933,"y":-0.49},{"s":"m","x":942,"y":-0.43},{"s":"m","x":951,"y":-0.15},{"s":"m","x":960,"y":-0.03},{"s":"m","x":969,"y":-0.09},{"s":"m","x":978,"y":-0.23},{"s":"m","x":987,"y":-0.12},{"s":"m","x":996,"y":-0.03},{"s":"m","x":1005,"y":-0.26},{"s":"m","x":1014,"y":-0.37},{"s":"m","x":1022,"y":-0.29},{"s":"m","x":1031,"y":-0.2},{"s":"m","x":1040,"y":-0.26},{"s":"m","x":1051,"y":-0.66},{"s":"m","x":1058,"y":-0.26},{"s":"m","x":1067,"y":-0.37},{"s":"m","x":1076,"y":-0.49},{"s":"m","x":1085,"y":-0.66},{"s":"m","x":1093,"y":-0.94},{"s":"m","x":1096,"y":-1.04},{"s":"m","x":1102,"y":-0.77},{"s":"m","x":1108,"y":-0.54},{"s":"m","x":1117,"y":-0.37},{"s":"m","x":1126,"y":-0.26},{"s":"m","x":1135,"y":-0.63},{"s":"m","x":1144,"y":-0.35},{"s":"m","x":1153,"y":-0.2},{"s":"m","x":1162,"y":-0.32},{"s":"m","x":1171,"y":-0.37},{"s":"m","x":1180,"y":-0.26},{"s":"m","x":1189,"y":-0.43},{"s":"m","x":1198,"y":-0.29},{"s":"m","x":1207,"y":-0.15},{"s":"m","x":1212,"y":-0.66},{"s":"m","x":1220,"y":-0.23},{"s":"m","x":1229,"y":-0.15},{"s":"m","x":1238,"y":-0.12},{"s":"m","x":1247,"y":-0.35},{"s":"m","x":1256,"y":-0.18},{"s":"m","x":1265,"y":-0.29},{"s":"m","x":1274,"y":-0.15},{"s":"m","x":1283,"y":-0.09},{"s":"m","x":1292,"y":-0.2},{"s":"m","x":1301,"y":-0.03},{"s":"m","x":1310,"y":-0.06},{"s":"m","x":1319,"y":-0.03},{"s":"m","x":1328,"y":-0.09},{"s":"m","x":1337,"y":-0.26},{"s":"m","x":1346,"y":-0.49},{"s":"m","x":1355,"y":-0.32},{"s":"m","x":1366,"y":-0.6},{"s":"m","x":1373,"y":-0.8},{"s":"m","x":1382,"y":-0.54},{"s":"m","x":1391,"y":-0.32},{"s":"m","x":1400,"y":-0.37},{"s":"m","x":1411,"y":-0.69},{"s":"m","x":1418,"y":-0.26},{"s":"m","x":1427,"y":-0.09},{"s":"m","x":1432,"y":0.19},{"s":"m","x":1436,"y":-0.03},{"s":"m","x":1445,"y":-0.43},{"s":"m","x":1454,"y":-0.23},{"s":"m","x":1463,"y":-0.09},{"s":"m","x":1472,"y":0.08},{"s":"m","x":1481,"y":-0.23},{"s":"m","x":1488,"y":-0.4},{"s":"m","x":1492,"y":-0.26},{"s":"m","x":1500,"y":-0.15},
{"s":"b","x":0,"y":-0.03},{"s":"b","x":6,"y":-0.09},{"s":"b","x":13,"y":0.11},{"s":"b","x":20,"y":-0.09},{"s":"b","x":29,"y":-0.01},{"s":"b","x":38,"y":0.08},{"s":"b","x":47,"y":0.05},{"s":"b","x":56,"y":-0.01},{"s":"b","x":65,"y":-0.03},{"s":"b","x":74,"y":-0.01},{"s":"b","x":83,"y":-0.06},{"s":"b","x":92,"y":-0.09},{"s":"b","x":101,"y":0.02},{"s":"b","x":110,"y":0.07},{"s":"b","x":119,"y":0.11},{"s":"b","x":126,"y":0.15},{"s":"b","x":135,"y":0.11},{"s":"b","x":144,"y":0.08},{"s":"b","x":153,"y":0.05},{"s":"b","x":162,"y":-0.01},{"s":"b","x":171,"y":-0.01},{"s":"b","x":180,"y":-0.03},{"s":"b","x":189,"y":-0.01},{"s":"b","x":198,"y":0.05},{"s":"b","x":207,"y":0.02},{"s":"b","x":216,"y":-0.09},{"s":"b","x":225,"y":-0.03},{"s":"b","x":234,"y":-0.06},{"s":"b","x":243,"y":-0.01},{"s":"b","x":252,"y":-0.03},{"s":"b","x":261,"y":-0.03},{"s":"b","x":270,"y":-0.01},{"s":"b","x":279,"y":0.02},{"s":"b","x":288,"y":-0.03},{"s":"b","x":297,"y":-0.01},{"s":"b","x":306,"y":0.02},{"s":"b","x":315,"y":-0.01},{"s":"b","x":324,"y":-0.03},{"s":"b","x":333,"y":0.02},{"s":"b","x":342,"y":0.02},{"s":"b","x":351,"y":0.05},{"s":"b","x":360,"y":0.02},{"s":"b","x":369,"y":-0.01},{"s":"b","x":378,"y":0.05},{"s":"b","x":387,"y":0.08},{"s":"b","x":396,"y":0.11},{"s":"b","x":405,"y":0.05},{"s":"b","x":415,"y":0.16},{"s":"b","x":424,"y":-0.01},{"s":"b","x":433,"y":0.02},{"s":"b","x":442,"y":-0.03},{"s":"b","x":451,"y":-0.01},{"s":"b","x":460,"y":0.02},{"s":"b","x":469,"y":0.11},{"s":"b","x":478,"y":0.02},{"s":"b","x":487,"y":-0.03},{"s":"b","x":496,"y":-0.01},{"s":"b","x":505,"y":-0.06},{"s":"b","x":514,"y":0.02},{"s":"b","x":523,"y":0.11},{"s":"b","x":532,"y":-0.03},{"s":"b","x":541,"y":-0.09},{"s":"b","x":550,"y":-0.06},{"s":"b","x":559,"y":-0.15},{"s":"b","x":568,"y":-0.09},{"s":"b","x":577,"y":-0.06},{"s":"b","x":586,"y":-0.06},{"s":"b","x":595,"y":-0.09},{"s":"b","x":604,"y":-0.03},{"s":"b","x":613,"y":0.05},{"s":"b","x":622,"y":0.08},{"s":"b","x":631,"y":0.05},{"s":"b","x":640,"y":0.08},{"s":"b","x":649,"y":0.02},{"s":"b","x":658,"y":-0.03},{"s":"b","x":667,"y":-0.09},{"s":"b","x":676,"y":-0.01},{"s":"b","x":685,"y":-0.03},{"s":"b","x":694,"y":-0.01},{"s":"b","x":703,"y":-0.01},{"s":"b","x":712,"y":-0.03},{"s":"b","x":721,"y":0.02},{"s":"b","x":726,"y":-0.01},{"s":"b","x":735,"y":0.05},{"s":"b","x":744,"y":0.11},{"s":"b","x":753,"y":0.02},{"s":"b","x":762,"y":-0.01},{"s":"b","x":771,"y":0.05},{"s":"b","x":780,"y":0.08},{"s":"b","x":789,"y":0.02},{"s":"b","x":798,"y":-0.03},{"s":"b","x":807,"y":-0.03},{"s":"b","x":816,"y":-0.03},{"s":"b","x":825,"y":-0.01},{"s":"b","x":834,"y":0.05},{"s":"b","x":843,"y":-0.01},{"s":"b","x":852,"y":-0.01},{"s":"b","x":861,"y":0.02},{"s":"b","x":870,"y":0.05},{"s":"b","x":879,"y":-0.03},{"s":"b","x":888,"y":0.02},{"s":"b","x":897,"y":0.11},{"s":"b","x":906,"y":0.08},{"s":"b","x":915,"y":0.02},{"s":"b","x":924,"y":0.05},{"s":"b","x":933,"y":0.11},{"s":"b","x":942,"y":0.08},{"s":"b","x":951,"y":0.08},{"s":"b","x":960,"y":0.05},{"s":"b","x":969,"y":-0.01},{"s":"b","x":978,"y":0.05},{"s":"b","x":987,"y":0.08},{"s":"b","x":996,"y":0.11},{"s":"b","x":1005,"y":0.08},{"s":"b","x":1014,"y":0.11},{"s":"b","x":1022,"y":0.08},{"s":"b","x":1031,"y":0.05},{"s":"b","x":1040,"y":-0.01},{"s":"b","x":1049,"y":-0.03},{"s":"b","x":1058,"y":-0.01},{"s":"b","x":1067,"y":-0.01},{"s":"b","x":1076,"y":-0.01},{"s":"b","x":1085,"y":-0.03},{"s":"b","x":1094,"y":-0.12},{"s":"b","x":1103,"y":-0.01},{"s":"b","x":1112,"y":0.05},{"s":"b","x":1121,"y":-0.01},{"s":"b","x":1130,"y":0.08},{"s":"b","x":1139,"y":-0.03},{"s":"b","x":1148,"y":-0.09},{"s":"b","x":1157,"y":-0.15},{"s":"b","x":1166,"y":-0.12},{"s":"b","x":1175,"y":-0.09},{"s":"b","x":1184,"y":-0.06},{"s":"b","x":1193,"y":-0.09},{"s":"b","x":1202,"y":-0.03},{"s":"b","x":1211,"y":0.02},{"s":"b","x":1220,"y":0.05},{"s":"b","x":1229,"y":0.08},{"s":"b","x":1238,"y":-0.03},{"s":"b","x":1247,"y":-0.06},{"s":"b","x":1256,"y":-0.03},{"s":"b","x":1265,"y":-0.01},{"s":"b","x":1274,"y":-0.01},{"s":"b","x":1283,"y":-0.02},{"s":"b","x":1292,"y":-0.03},{"s":"b","x":1301,"y":-0.01},{"s":"b","x":1310,"y":0.02},{"s":"b","x":1319,"y":0.05},{"s":"b","x":1328,"y":0.08},{"s":"b","x":1337,"y":0.05},{"s":"b","x":1346,"y":0.04},{"s":"b","x":1355,"y":-0.01},{"s":"b","x":1364,"y":0.02},{"s":"b","x":1373,"y":0.02},{"s":"b","x":1382,"y":0.05},{"s":"b","x":1391,"y":-0.01},{"s":"b","x":1400,"y":-0.03},{"s":"b","x":1409,"y":-0.03},{"s":"b","x":1418,"y":0.08},{"s":"b","x":1427,"y":-0.03},{"s":"b","x":1436,"y":-0.01},{"s":"b","x":1445,"y":-0.03},{"s":"b","x":1454,"y":-0.01},{"s":"b","x":1463,"y":0.02},{"s":"b","x":1472,"y":0.05},{"s":"b","x":1481,"y":-0.01},{"s":"b","x":1492,"y":0.02},{"s":"b","x":1500,"y":-0.03}
],
"C": [
{"s":"r","x":0,"y":0.1},{"s":"r","x":10,"y":-0.3},{"s":"r","x":20,"y":0.4},{"s":"r","x":30,"y":-0.2},{"s":"r","x":40,"y":0.3},{"s":"r","x":50,"y":-0.4},{"s":"r","x":60,"y":0.2},{"s":"r","x":70,"y":-0.1},{"s":"r","x":80,"y":0.5},{"s":"r","x":90,"y":-0.3},{"s":"r","x":100,"y":0.2},{"s":"r","x":110,"y":-0.5},{"s":"r","x":120,"y":0.3},{"s":"r","x":130,"y":0.1},{"s":"r","x":140,"y":-0.4},{"s":"r","x":150,"y":0.4},{"s":"r","x":160,"y":-0.2},{"s":"r","x":170,"y":0.3},{"s":"r","x":180,"y":-0.3},{"s":"r","x":190,"y":0.2},{"s":"r","x":200,"y":-0.1},{"s":"r","x":210,"y":0.4},{"s":"r","x":220,"y":-0.4},{"s":"r","x":230,"y":0.1},{"s":"r","x":240,"y":-0.3},{"s":"r","x":250,"y":0.3},{"s":"r","x":260,"y":-0.2},{"s":"r","x":270,"y":0.2},{"s":"r","x":280,"y":-0.6},{"s":"r","x":290,"y":0.1},{"s":"r","x":300,"y":-0.3},{"s":"r","x":310,"y":0.2},{"s":"r","x":320,"y":0.5},{"s":"r","x":330,"y":-0.2},{"s":"r","x":340,"y":0.3},{"s":"r","x":350,"y":-0.4},{"s":"r","x":360,"y":0.1},{"s":"r","x":370,"y":0.6},{"s":"r","x":380,"y":-0.3},{"s":"r","x":390,"y":0.2},{"s":"r","x":400,"y":-0.5},{"s":"r","x":410,"y":0.3},{"s":"r","x":420,"y":0.7},{"s":"r","x":430,"y":-0.2},{"s":"r","x":440,"y":0.1},{"s":"r","x":450,"y":-0.4},{"s":"r","x":460,"y":0.3},{"s":"r","x":470,"y":-0.2},{"s":"r","x":480,"y":0.4},{"s":"r","x":490,"y":-0.3},{"s":"r","x":500,"y":0.2},{"s":"r","x":510,"y":-0.1},{"s":"r","x":520,"y":0.3},{"s":"r","x":530,"y":-0.4},{"s":"r","x":540,"y":0.2},{"s":"r","x":550,"y":-0.35},{"s":"r","x":560,"y":0.6},{"s":"r","x":570,"y":-0.5},{"s":"r","x":580,"y":0.2},{"s":"r","x":590,"y":-0.3},{"s":"r","x":600,"y":0.4},{"s":"r","x":610,"y":-0.2},{"s":"r","x":620,"y":0.1},{"s":"r","x":630,"y":-0.5},{"s":"r","x":640,"y":0.3},{"s":"r","x":650,"y":-0.1},{"s":"r","x":660,"y":0.4},{"s":"r","x":670,"y":-0.3},{"s":"r","x":680,"y":0.2},{"s":"r","x":690,"y":-0.4},{"s":"r","x":700,"y":0.3},{"s":"r","x":710,"y":-0.1},{"s":"r","x":720,"y":0.2},{"s":"r","x":730,"y":-0.3},{"s":"r","x":740,"y":0.4},{"s":"r","x":750,"y":-0.6},{"s":"r","x":760,"y":0.2},{"s":"r","x":770,"y":-0.2},{"s":"r","x":780,"y":0.3},{"s":"r","x":790,"y":-0.4},{"s":"r","x":800,"y":0.2},{"s":"r","x":810,"y":-0.1},{"s":"r","x":820,"y":0.5},{"s":"r","x":830,"y":-0.3},{"s":"r","x":840,"y":0.1},{"s":"r","x":850,"y":-0.2},{"s":"r","x":860,"y":0.4},{"s":"r","x":870,"y":-0.3},{"s":"r","x":880,"y":0.2},{"s":"r","x":890,"y":-0.5},{"s":"r","x":900,"y":0.3},{"s":"r","x":910,"y":-0.2},{"s":"r","x":920,"y":0.1},{"s":"r","x":930,"y":-0.4},{"s":"r","x":940,"y":0.3},{"s":"r","x":950,"y":-0.1},{"s":"r","x":960,"y":0.4},{"s":"r","x":970,"y":-0.3},{"s":"r","x":980,"y":0.2},{"s":"r","x":990,"y":-0.2},{"s":"r","x":1000,"y":0.1},{"s":"r","x":1010,"y":-0.4},{"s":"r","x":1020,"y":0.3},{"s":"r","x":1030,"y":0.6},{"s":"r","x":1040,"y":-0.2},{"s":"r","x":1050,"y":0.3},{"s":"r","x":1060,"y":-0.4},{"s":"r","x":1070,"y":0.2},{"s":"r","x":1080,"y":-0.1},{"s":"r","x":1090,"y":0.3},{"s":"r","x":1100,"y":-0.3},{"s":"r","x":1110,"y":0.2},{"s":"r","x":1120,"y":-0.5},{"s":"r","x":1130,"y":0.4},{"s":"r","x":1140,"y":-0.2},{"s":"r","x":1150,"y":0.1},{"s":"r","x":1160,"y":-0.3},{"s":"r","x":1170,"y":0.2},{"s":"r","x":1180,"y":-0.1},{"s":"r","x":1190,"y":0.4},{"s":"r","x":1200,"y":-0.4},{"s":"r","x":1210,"y":0.2},{"s":"r","x":1220,"y":-0.2},{"s":"r","x":1230,"y":0.3},{"s":"r","x":1240,"y":-0.3},{"s":"r","x":1250,"y":0.1},{"s":"r","x":1260,"y":-0.4},{"s":"r","x":1270,"y":0.3},{"s":"r","x":1280,"y":-0.2},{"s":"r","x":1290,"y":0.2},{"s":"r","x":1300,"y":-0.1},{"s":"r","x":1310,"y":0.3},{"s":"r","x":1320,"y":-0.3},{"s":"r","x":1330,"y":0.2},{"s":"r","x":1340,"y":0.5},{"s":"r","x":1350,"y":-0.2},{"s":"r","x":1360,"y":0.1},{"s":"r","x":1370,"y":-0.4},{"s":"r","x":1380,"y":0.2},{"s":"r","x":1390,"y":-0.1},{"s":"r","x":1400,"y":0.3},{"s":"r","x":1410,"y":-0.2},{"s":"r","x":1420,"y":0.4},{"s":"r","x":1430,"y":-0.3},{"s":"r","x":1440,"y":0.1},{"s":"r","x":1450,"y":-0.2},{"s":"r","x":1460,"y":0.3},{"s":"r","x":1470,"y":-0.4},{"s":"r","x":1480,"y":0.2},{"s":"r","x":1490,"y":0.5},{"s":"r","x":1500,"y":0.1},
{"s":"g","x":0,"y":-0.5},{"s":"g","x":8,"y":0.8},{"s":"g","x":16,"y":-0.3},{"s":"g","x":22,"y":1.7},{"s":"g","x":30,"y":-0.6},{"s":"g","x":38,"y":1.2},{"s":"g","x":46,"y":-1.9},{"s":"g","x":54,"y":0.9},{"s":"g","x":62,"y":-0.8},{"s":"g","x":70,"y":1.5},{"s":"g","x":78,"y":-1.2},{"s":"g","x":86,"y":0.4},{"s":"g","x":94,"y":-1.4},{"s":"g","x":102,"y":1.1},{"s":"g","x":112,"y":2.7},{"s":"g","x":120,"y":-0.9},{"s":"g","x":128,"y":0.6},{"s":"g","x":136,"y":-2.0},{"s":"g","x":144,"y":1.3},{"s":"g","x":152,"y":-0.4},{"s":"g","x":160,"y":1.9},{"s":"g","x":168,"y":-1.5},{"s":"g","x":176,"y":0.7},{"s":"g","x":184,"y":-1.0},{"s":"g","x":192,"y":1.6},{"s":"g","x":200,"y":-2.1},{"s":"g","x":208,"y":0.5},{"s":"g","x":216,"y":-0.7},{"s":"g","x":224,"y":1.4},{"s":"g","x":232,"y":-1.6},{"s":"g","x":243,"y":2.5},{"s":"g","x":250,"y":-0.8},{"s":"g","x":258,"y":1.8},{"s":"g","x":264,"y":-2.6},{"s":"g","x":272,"y":0.9},{"s":"g","x":280,"y":-1.3},{"s":"g","x":288,"y":0.3},{"s":"g","x":296,"y":4.3},{"s":"g","x":304,"y":-2.3},{"s":"g","x":312,"y":0.8},{"s":"g","x":320,"y":-1.1},{"s":"g","x":328,"y":1.6},{"s":"g","x":336,"y":-0.5},{"s":"g","x":344,"y":1.0},{"s":"g","x":352,"y":-1.8},{"s":"g","x":360,"y":2.0},{"s":"g","x":368,"y":-0.9},{"s":"g","x":376,"y":0.6},{"s":"g","x":384,"y":-2.2},{"s":"g","x":392,"y":1.5},{"s":"g","x":400,"y":-0.4},{"s":"g","x":408,"y":1.2},{"s":"g","x":416,"y":-1.6},{"s":"g","x":424,"y":0.8},{"s":"g","x":432,"y":-0.9},{"s":"g","x":440,"y":2.1},{"s":"g","x":448,"y":-1.7},{"s":"g","x":456,"y":0.4},{"s":"g","x":463,"y":3.0},{"s":"g","x":470,"y":-1.3},{"s":"g","x":478,"y":0.7},{"s":"g","x":486,"y":-2.4},{"s":"g","x":494,"y":1.4},{"s":"g","x":502,"y":2.4},{"s":"g","x":510,"y":-0.6},{"s":"g","x":518,"y":1.1},{"s":"g","x":526,"y":-2.0},{"s":"g","x":534,"y":0.5},{"s":"g","x":542,"y":-1.2},{"s":"g","x":550,"y":1.7},{"s":"g","x":558,"y":-0.8},{"s":"g","x":566,"y":0.9},{"s":"g","x":574,"y":-2.5},{"s":"g","x":582,"y":1.3},{"s":"g","x":590,"y":-0.3},{"s":"g","x":598,"y":2.3},{"s":"g","x":606,"y":-1.5},{"s":"g","x":614,"y":0.6},{"s":"g","x":622,"y":-2.7},{"s":"g","x":630,"y":1.0},{"s":"g","x":638,"y":-0.7},{"s":"g","x":646,"y":1.8},{"s":"g","x":654,"y":-1.9},{"s":"g","x":662,"y":0.4},{"s":"g","x":670,"y":2.0},{"s":"g","x":678,"y":-1.1},{"s":"g","x":686,"y":0.8},{"s":"g","x":694,"y":-1.6},{"s":"g","x":702,"y":1.2},{"s":"g","x":710,"y":-2.1},{"s":"g","x":718,"y":0.7},{"s":"g","x":726,"y":-0.5},{"s":"g","x":734,"y":1.6},{"s":"g","x":742,"y":-2.3},{"s":"g","x":750,"y":0.9},{"s":"g","x":761,"y":3.1},{"s":"g","x":768,"y":-1.4},{"s":"g","x":776,"y":0.5},{"s":"g","x":784,"y":-2.6},{"s":"g","x":792,"y":1.3},{"s":"g","x":800,"y":-0.9},{"s":"g","x":808,"y":1.9},{"s":"g","x":816,"y":-1.8},{"s":"g","x":824,"y":3.85},{"s":"g","x":832,"y":-2.8},{"s":"g","x":840,"y":1.0},{"s":"g","x":848,"y":-0.6},{"s":"g","x":856,"y":2.2},{"s":"g","x":864,"y":-1.5},{"s":"g","x":872,"y":0.8},{"s":"g","x":880,"y":-2.0},{"s":"g","x":888,"y":1.4},{"s":"g","x":896,"y":-0.7},{"s":"g","x":904,"y":2.4},{"s":"g","x":912,"y":-1.2},{"s":"g","x":920,"y":0.6},{"s":"g","x":928,"y":-2.4},{"s":"g","x":936,"y":1.7},{"s":"g","x":944,"y":-0.8},{"s":"g","x":952,"y":1.1},{"s":"g","x":960,"y":-1.9},{"s":"g","x":968,"y":2.0},{"s":"g","x":976,"y":-0.5},{"s":"g","x":984,"y":1.3},{"s":"g","x":992,"y":-2.2},{"s":"g","x":1000,"y":0.8},{"s":"g","x":1008,"y":-1.3},{"s":"g","x":1016,"y":1.9},{"s":"g","x":1024,"y":-0.6},{"s":"g","x":1032,"y":2.3},{"s":"g","x":1040,"y":-1.6},{"s":"g","x":1048,"y":0.9},{"s":"g","x":1057,"y":-3.1},{"s":"g","x":1064,"y":1.5},{"s":"g","x":1072,"y":-0.9},{"s":"g","x":1080,"y":2.1},{"s":"g","x":1088,"y":-1.4},{"s":"g","x":1096,"y":0.7},{"s":"g","x":1104,"y":-2.0},{"s":"g","x":1112,"y":1.8},{"s":"g","x":1120,"y":-0.8},{"s":"g","x":1128,"y":2.6},{"s":"g","x":1136,"y":-1.7},{"s":"g","x":1144,"y":1.0},{"s":"g","x":1152,"y":-2.3},{"s":"g","x":1160,"y":2.2},{"s":"g","x":1168,"y":-1.1},{"s":"g","x":1176,"y":1.6},{"s":"g","x":1184,"y":-2.0},{"s":"g","x":1192,"y":2.7},{"s":"g","x":1200,"y":-1.3},{"s":"g","x":1208,"y":0.9},{"s":"g","x":1216,"y":-2.4},{"s":"g","x":1224,"y":1.5},{"s":"g","x":1232,"y":-0.7},{"s":"g","x":1240,"y":2.0},{"s":"g","x":1248,"y":-1.8},{"s":"g","x":1256,"y":0.6},{"s":"g","x":1264,"y":-2.5},{"s":"g","x":1272,"y":1.9},{"s":"g","x":1280,"y":-1.0},{"s":"g","x":1288,"y":2.3},{"s":"g","x":1296,"y":-1.6},{"s":"g","x":1304,"y":0.8},{"s":"g","x":1312,"y":-2.1},{"s":"g","x":1320,"y":2.4},{"s":"g","x":1328,"y":-1.2},{"s":"g","x":1336,"y":1.4},{"s":"g","x":1344,"y":-2.2},{"s":"g","x":1352,"y":0.9},{"s":"g","x":1360,"y":-1.5},{"s":"g","x":1368,"y":2.1},{"s":"g","x":1376,"y":-0.6},{"s":"g","x":1384,"y":1.6},{"s":"g","x":1392,"y":-2.3},{"s":"g","x":1400,"y":1.1},{"s":"g","x":1408,"y":-1.4},{"s":"g","x":1416,"y":2.0},{"s":"g","x":1424,"y":-0.8},{"s":"g","x":1432,"y":1.3},{"s":"g","x":1440,"y":-2.0},{"s":"g","x":1448,"y":0.9},{"s":"g","x":1456,"y":-1.3},{"s":"g","x":1464,"y":2.2},{"s":"g","x":1472,"y":-1.1},{"s":"g","x":1478,"y":3.55},{"s":"g","x":1486,"y":-2.4},{"s":"g","x":1494,"y":1.6},{"s":"g","x":1500,"y":-2.3},
{"s":"b","x":0,"y":0.1},{"s":"b","x":10,"y":-0.3},{"s":"b","x":20,"y":0.4},{"s":"b","x":30,"y":-0.2},{"s":"b","x":40,"y":0.3},{"s":"b","x":50,"y":-0.4},{"s":"b","x":60,"y":0.2},{"s":"b","x":70,"y":-0.1},{"s":"b","x":80,"y":0.5},{"s":"b","x":90,"y":-0.3},{"s":"b","x":100,"y":0.2},{"s":"b","x":110,"y":-0.5},{"s":"b","x":120,"y":0.3},{"s":"b","x":130,"y":0.1},{"s":"b","x":140,"y":-0.4},{"s":"b","x":150,"y":0.4},{"s":"b","x":160,"y":-0.2},{"s":"b","x":170,"y":0.3},{"s":"b","x":180,"y":-0.3},{"s":"b","x":190,"y":0.2},{"s":"b","x":200,"y":-0.1},{"s":"b","x":210,"y":0.4},{"s":"b","x":220,"y":-0.4},{"s":"b","x":230,"y":0.1},{"s":"b","x":240,"y":-0.3},{"s":"b","x":250,"y":0.3},{"s":"b","x":260,"y":-0.2},{"s":"b","x":270,"y":0.2},{"s":"b","x":280,"y":-0.6},{"s":"b","x":290,"y":0.1},{"s":"b","x":300,"y":-0.3},{"s":"b","x":310,"y":0.2},{"s":"b","x":320,"y":0.5},{"s":"b","x":330,"y":-0.2},{"s":"b","x":340,"y":0.3},{"s":"b","x":350,"y":-0.4},{"s":"b","x":360,"y":0.1},{"s":"b","x":370,"y":0.6},{"s":"b","x":380,"y":-0.3},{"s":"b","x":390,"y":0.2},{"s":"b","x":400,"y":-0.5},{"s":"b","x":410,"y":0.3},{"s":"b","x":420,"y":0.7},{"s":"b","x":430,"y":-0.2},{"s":"b","x":440,"y":0.1},{"s":"b","x":450,"y":-0.4},{"s":"b","x":460,"y":0.3},{"s":"b","x":470,"y":-0.2},{"s":"b","x":480,"y":0.4},{"s":"b","x":490,"y":-0.3},{"s":"b","x":500,"y":0.2},{"s":"b","x":510,"y":-0.1},{"s":"b","x":520,"y":0.3},{"s":"b","x":530,"y":-0.4},{"s":"b","x":540,"y":0.2},{"s":"b","x":550,"y":-0.2},{"s":"b","x":560,"y":0.6},{"s":"b","x":570,"y":-0.5},{"s":"b","x":580,"y":0.2},{"s":"b","x":590,"y":-0.3},{"s":"b","x":600,"y":0.4},{"s":"b","x":610,"y":-0.2},{"s":"b","x":620,"y":0.1},{"s":"b","x":630,"y":-0.5},{"s":"b","x":640,"y":0.3},{"s":"b","x":650,"y":-0.1},{"s":"b","x":660,"y":0.4},{"s":"b","x":670,"y":-0.3},{"s":"b","x":680,"y":0.2},{"s":"b","x":690,"y":-0.4},{"s":"b","x":700,"y":0.3},{"s":"b","x":710,"y":-0.1},{"s":"b","x":720,"y":0.2},{"s":"b","x":730,"y":-0.3},{"s":"b","x":740,"y":0.4},{"s":"b","x":750,"y":-0.6},{"s":"b","x":760,"y":0.2},{"s":"b","x":770,"y":-0.2},{"s":"b","x":780,"y":0.3},{"s":"b","x":790,"y":-0.4},{"s":"b","x":800,"y":0.2},{"s":"b","x":810,"y":-0.1},{"s":"b","x":820,"y":0.5},{"s":"b","x":830,"y":-0.3},{"s":"b","x":840,"y":0.1},{"s":"b","x":850,"y":-0.2},{"s":"b","x":860,"y":0.4},{"s":"b","x":870,"y":-0.3},{"s":"b","x":880,"y":0.2},{"s":"b","x":890,"y":-0.5},{"s":"b","x":900,"y":0.3},{"s":"b","x":910,"y":-0.2},{"s":"b","x":920,"y":0.1},{"s":"b","x":930,"y":-0.4},{"s":"b","x":940,"y":0.3},{"s":"b","x":950,"y":-0.1},{"s":"b","x":960,"y":0.4},{"s":"b","x":970,"y":-0.3},{"s":"b","x":980,"y":0.2},{"s":"b","x":990,"y":-0.2},{"s":"b","x":1000,"y":0.1},{"s":"b","x":1010,"y":-0.4},{"s":"b","x":1020,"y":0.3},{"s":"b","x":1030,"y":0.8},{"s":"b","x":1040,"y":-0.2},{"s":"b","x":1050,"y":0.3},{"s":"b","x":1060,"y":-0.4},{"s":"b","x":1070,"y":0.2},{"s":"b","x":1080,"y":-0.1},{"s":"b","x":1090,"y":0.3},{"s":"b","x":1100,"y":-0.3},{"s":"b","x":1110,"y":0.2},{"s":"b","x":1120,"y":-0.5},{"s":"b","x":1130,"y":0.4},{"s":"b","x":1140,"y":-0.2},{"s":"b","x":1150,"y":0.1},{"s":"b","x":1160,"y":-0.3},{"s":"b","x":1170,"y":0.2},{"s":"b","x":1180,"y":-0.1},{"s":"b","x":1190,"y":0.4},{"s":"b","x":1200,"y":-0.4},{"s":"b","x":1210,"y":0.2},{"s":"b","x":1220,"y":-0.2},{"s":"b","x":1230,"y":0.3},{"s":"b","x":1240,"y":-0.3},{"s":"b","x":1250,"y":0.1},{"s":"b","x":1260,"y":-0.4},{"s":"b","x":1270,"y":0.3},{"s":"b","x":1280,"y":-0.2},{"s":"b","x":1290,"y":0.2},{"s":"b","x":1300,"y":-0.1},{"s":"b","x":1310,"y":0.3},{"s":"b","x":1320,"y":-0.3},{"s":"b","x":1330,"y":0.2},{"s":"b","x":1340,"y":0.5},{"s":"b","x":1350,"y":-0.2},{"s":"b","x":1360,"y":0.1},{"s":"b","x":1370,"y":-0.4},{"s":"b","x":1380,"y":0.2},{"s":"b","x":1390,"y":-0.1},{"s":"b","x":1400,"y":0.3},{"s":"b","x":1410,"y":-0.2},{"s":"b","x":1420,"y":0.4},{"s":"b","x":1430,"y":-0.3},{"s":"b","x":1440,"y":0.1},{"s":"b","x":1450,"y":-0.2},{"s":"b","x":1460,"y":0.3},{"s":"b","x":1470,"y":-0.4},{"s":"b","x":1480,"y":0.2},{"s":"b","x":1490,"y":0.5},{"s":"b","x":1500,"y":0.1},
{"s":"m","x":4,"y":0.3},{"s":"m","x":12,"y":-1.5},{"s":"m","x":20,"y":1.2},{"s":"m","x":28,"y":-0.9},{"s":"m","x":36,"y":1.6},{"s":"m","x":44,"y":-2.0},{"s":"m","x":52,"y":0.8},{"s":"m","x":60,"y":-1.1},{"s":"m","x":66,"y":-2.4},{"s":"m","x":74,"y":1.4},{"s":"m","x":82,"y":-0.6},{"s":"m","x":90,"y":1.9},{"s":"m","x":98,"y":-1.7},{"s":"m","x":106,"y":0.5},{"s":"m","x":114,"y":-2.6},{"s":"m","x":122,"y":1.8},{"s":"m","x":130,"y":-0.8},{"s":"m","x":138,"y":2.2},{"s":"m","x":146,"y":-1.9},{"s":"m","x":154,"y":0.9},{"s":"m","x":162,"y":-2.2},{"s":"m","x":170,"y":1.5},{"s":"m","x":178,"y":-0.5},{"s":"m","x":186,"y":2.0},{"s":"m","x":194,"y":-1.4},{"s":"m","x":202,"y":1.1},{"s":"m","x":210,"y":-2.4},{"s":"m","x":218,"y":0.7},{"s":"m","x":226,"y":1.9},{"s":"m","x":234,"y":-1.2},{"s":"m","x":240,"y":1.7},{"s":"m","x":248,"y":-0.9},{"s":"m","x":256,"y":-2.0},{"s":"m","x":262,"y":1.5},{"s":"m","x":270,"y":-1.0},{"s":"m","x":278,"y":1.2},{"s":"m","x":286,"y":-1.8},{"s":"m","x":292,"y":0.6},{"s":"m","x":302,"y":2.3},{"s":"m","x":310,"y":-3.3},{"s":"m","x":318,"y":1.4},{"s":"m","x":326,"y":-0.7},{"s":"m","x":334,"y":1.9},{"s":"m","x":342,"y":-2.1},{"s":"m","x":350,"y":0.8},{"s":"m","x":358,"y":2.0},{"s":"m","x":366,"y":-1.5},{"s":"m","x":374,"y":0.9},{"s":"m","x":382,"y":-2.3},{"s":"m","x":390,"y":2.4},{"s":"m","x":398,"y":-0.8},{"s":"m","x":406,"y":1.6},{"s":"m","x":414,"y":-1.9},{"s":"m","x":422,"y":0.7},{"s":"m","x":429,"y":2.8},{"s":"m","x":436,"y":-1.6},{"s":"m","x":444,"y":1.0},{"s":"m","x":452,"y":-2.7},{"s":"m","x":460,"y":1.8},{"s":"m","x":468,"y":-0.9},{"s":"m","x":476,"y":1.3},{"s":"m","x":484,"y":-2.2},{"s":"m","x":492,"y":0.6},{"s":"m","x":500,"y":2.1},{"s":"m","x":508,"y":-1.3},{"s":"m","x":516,"y":0.9},{"s":"m","x":520,"y":-2.6},{"s":"m","x":528,"y":1.5},{"s":"m","x":536,"y":-0.6},{"s":"m","x":544,"y":2.0},{"s":"m","x":552,"y":-1.8},{"s":"m","x":560,"y":0.8},{"s":"m","x":568,"y":-2.1},{"s":"m","x":576,"y":1.4},{"s":"m","x":584,"y":-1.0},{"s":"m","x":592,"y":2.2},{"s":"m","x":598,"y":3.0},{"s":"m","x":606,"y":-1.7},{"s":"m","x":612,"y":0.9},{"s":"m","x":618,"y":-3.3},{"s":"m","x":626,"y":1.2},{"s":"m","x":634,"y":-0.8},{"s":"m","x":642,"y":2.3},{"s":"m","x":650,"y":-1.5},{"s":"m","x":658,"y":0.7},{"s":"m","x":666,"y":-2.2},{"s":"m","x":674,"y":1.8},{"s":"m","x":682,"y":-1.1},{"s":"m","x":690,"y":2.5},{"s":"m","x":698,"y":-1.8},{"s":"m","x":706,"y":0.9},{"s":"m","x":714,"y":-2.4},{"s":"m","x":722,"y":1.3},{"s":"m","x":730,"y":-0.7},{"s":"m","x":738,"y":2.0},{"s":"m","x":746,"y":-1.9},{"s":"m","x":754,"y":1.1},{"s":"m","x":762,"y":-1.3},{"s":"m","x":770,"y":2.3},{"s":"m","x":778,"y":-2.2},{"s":"m","x":786,"y":0.8},{"s":"m","x":794,"y":-1.6},{"s":"m","x":802,"y":1.9},{"s":"m","x":810,"y":-0.9},{"s":"m","x":818,"y":2.1},{"s":"m","x":826,"y":-2.0},{"s":"m","x":834,"y":1.2},{"s":"m","x":842,"y":-1.4},{"s":"m","x":850,"y":2.3},{"s":"m","x":858,"y":-2.2},{"s":"m","x":866,"y":0.7},{"s":"m","x":874,"y":1.6},{"s":"m","x":882,"y":-2.3},{"s":"m","x":890,"y":2.1},{"s":"m","x":898,"y":-1.0},{"s":"m","x":906,"y":1.8},{"s":"m","x":914,"y":-1.6},{"s":"m","x":922,"y":0.5},{"s":"m","x":930,"y":2.2},{"s":"m","x":938,"y":-2.4},{"s":"m","x":946,"y":1.4},{"s":"m","x":954,"y":-0.8},{"s":"m","x":962,"y":2.0},{"s":"m","x":970,"y":-2.3},{"s":"m","x":978,"y":1.1},{"s":"m","x":986,"y":-0.6},{"s":"m","x":994,"y":2.4},{"s":"m","x":1002,"y":-2.9},{"s":"m","x":1010,"y":1.3},{"s":"m","x":1018,"y":-1.1},{"s":"m","x":1026,"y":2.2},{"s":"m","x":1034,"y":-1.5},{"s":"m","x":1042,"y":1.8},{"s":"m","x":1050,"y":-2.1},{"s":"m","x":1055,"y":3.4},{"s":"m","x":1062,"y":-1.6},{"s":"m","x":1070,"y":2.3},{"s":"m","x":1078,"y":-2.5},{"s":"m","x":1086,"y":1.2},{"s":"m","x":1096,"y":4.1},{"s":"m","x":1105,"y":-3.35},{"s":"m","x":1112,"y":2.0},{"s":"m","x":1120,"y":-1.0},{"s":"m","x":1128,"y":2.4},{"s":"m","x":1137,"y":2.9},{"s":"m","x":1144,"y":-2.1},{"s":"m","x":1152,"y":1.6},{"s":"m","x":1160,"y":-1.3},{"s":"m","x":1168,"y":2.8},{"s":"m","x":1176,"y":-2.9},{"s":"m","x":1184,"y":1.5},{"s":"m","x":1192,"y":-0.8},{"s":"m","x":1201,"y":2.8},{"s":"m","x":1208,"y":-1.9},{"s":"m","x":1216,"y":1.1},{"s":"m","x":1222,"y":3.2},{"s":"m","x":1230,"y":-2.0},{"s":"m","x":1238,"y":1.4},{"s":"m","x":1246,"y":-2.6},{"s":"m","x":1254,"y":2.3},{"s":"m","x":1262,"y":-1.2},{"s":"m","x":1270,"y":2.0},{"s":"m","x":1278,"y":-2.4},{"s":"m","x":1286,"y":1.7},{"s":"m","x":1294,"y":-0.9},{"s":"m","x":1302,"y":2.6},{"s":"m","x":1310,"y":-2.2},{"s":"m","x":1318,"y":1.3},{"s":"m","x":1326,"y":-1.5},{"s":"m","x":1334,"y":2.7},{"s":"m","x":1345,"y":-3.3},{"s":"m","x":1352,"y":1.0},{"s":"m","x":1360,"y":2.3},{"s":"m","x":1368,"y":-1.9},{"s":"m","x":1376,"y":0.8},{"s":"m","x":1384,"y":2.6},{"s":"m","x":1392,"y":-2.4},{"s":"m","x":1400,"y":1.2},{"s":"m","x":1408,"y":-1.6},{"s":"m","x":1416,"y":2.2},{"s":"m","x":1424,"y":-2.0},{"s":"m","x":1432,"y":0.9},{"s":"m","x":1440,"y":1.9},{"s":"m","x":1448,"y":-2.3},{"s":"m","x":1456,"y":1.5},{"s":"m","x":1464,"y":-1.7},{"s":"m","x":1472,"y":2.0},{"s":"m","x":1480,"y":-2.2},{"s":"m","x":1488,"y":1.3},{"s":"m","x":1496,"y":-2.5},{"s":"m","x":1500,"y":1.7}
],
"D": [
{"s":"r","x":0,"y":0},{"s":"r","x":100,"y":0.0018},{"s":"r","x":200,"y":0.0038},{"s":"r","x":300,"y":0.0057},{"s":"r","x":400,"y":0.0079},{"s":"r","x":500,"y":0.0098},{"s":"r","x":600,"y":0.0122},{"s":"r","x":700,"y":0.0143},{"s":"r","x":800,"y":0.0163},{"s":"r","x":900,"y":0.0184},{"s":"r","x":1000,"y":0.0208},{"s":"r","x":1100,"y":0.023},{"s":"r","x":1200,"y":0.0254},{"s":"r","x":1300,"y":0.0276},{"s":"r","x":1400,"y":0.0296},{"s":"r","x":1500,"y":0.0315},
{"s":"g","x":0,"y":0},{"s":"g","x":50,"y":0.004},{"s":"g","x":100,"y":0.008},{"s":"g","x":150,"y":0.013},{"s":"g","x":200,"y":0.017},{"s":"g","x":250,"y":0.021},{"s":"g","x":300,"y":0.026},{"s":"g","x":350,"y":0.031},{"s":"g","x":400,"y":0.035},{"s":"g","x":450,"y":0.041},{"s":"g","x":500,"y":0.045},{"s":"g","x":550,"y":0.0495},{"s":"g","x":600,"y":0.054},{"s":"g","x":650,"y":0.059},{"s":"g","x":700,"y":0.063},{"s":"g","x":750,"y":0.068},{"s":"g","x":800,"y":0.072},{"s":"g","x":850,"y":0.078},{"s":"g","x":900,"y":0.083},{"s":"g","x":950,"y":0.087},{"s":"g","x":1000,"y":0.0905},{"s":"g","x":1050,"y":0.095},{"s":"g","x":1100,"y":0.1},{"s":"g","x":1150,"y":0.104},{"s":"g","x":1200,"y":0.11},{"s":"g","x":1250,"y":0.1155},{"s":"g","x":1300,"y":0.12},{"s":"g","x":1350,"y":0.1255},{"s":"g","x":1400,"y":0.131},{"s":"g","x":1450,"y":0.135},{"s":"g","x":1500,"y":0.1405},
{"s":"m","x":0,"y":0},{"s":"m","x":50,"y":0.003},{"s":"m","x":100,"y":0.0075},{"s":"m","x":150,"y":0.012},{"s":"m","x":200,"y":0.0175},{"s":"m","x":250,"y":0.0225},{"s":"m","x":300,"y":0.027},{"s":"m","x":350,"y":0.031},{"s":"m","x":400,"y":0.036},{"s":"m","x":450,"y":0.0425},{"s":"m","x":500,"y":0.047},{"s":"m","x":550,"y":0.0515},{"s":"m","x":600,"y":0.0565},{"s":"m","x":650,"y":0.0615},{"s":"m","x":700,"y":0.066},{"s":"m","x":750,"y":0.0715},{"s":"m","x":800,"y":0.076},{"s":"m","x":850,"y":0.0815},{"s":"m","x":900,"y":0.087},{"s":"m","x":950,"y":0.093},{"s":"m","x":1000,"y":0.0975},{"s":"m","x":1050,"y":0.102},{"s":"m","x":1100,"y":0.107},{"s":"m","x":1150,"y":0.112},{"s":"m","x":1200,"y":0.118},{"s":"m","x":1250,"y":0.1245},{"s":"m","x":1300,"y":0.129},{"s":"m","x":1350,"y":0.135},{"s":"m","x":1400,"y":0.142},{"s":"m","x":1450,"y":0.148},{"s":"m","x":1500,"y":0.154},
{"s":"b","x":0,"y":0},{"s":"b","x":100,"y":0.0017},{"s":"b","x":200,"y":0.0036},{"s":"b","x":300,"y":0.0055},{"s":"b","x":400,"y":0.0077},{"s":"b","x":500,"y":0.0095},{"s":"b","x":550,"y":0.0105},{"s":"b","x":600,"y":0.012},{"s":"b","x":700,"y":0.014},{"s":"b","x":800,"y":0.016},{"s":"b","x":900,"y":0.018},{"s":"b","x":1000,"y":0.0205},{"s":"b","x":1100,"y":0.0225},{"s":"b","x":1200,"y":0.025},{"s":"b","x":1300,"y":0.027},{"s":"b","x":1400,"y":0.029},{"s":"b","x":1500,"y":0.0305}
]
},
"columns": 2,
"spacing": {"row": 206, "column": 132},
"bounds": "flush",
"concat": [
{
 "width": 547, "height": 289,
 "title": {"text": "Estimation of the firest parameter", "offset": 46},
 "data": {"name": "A"},
 "layer": [
  {"mark": {"type": "line", "clip": true},
   "encoding": {
    "x": {"field": "x", "type": "quantitative", "scale": {"domain": [0, 1500], "nice": false, "zero": false}, "axis": {"orient": "bottom", "values": [0, 500, 1000, 1500], "title": null, "labelExpr": "'' + datum.value"}},
    "y": {"field": "y", "type": "quantitative", "scale": {"domain": [-15, 5], "nice": false, "zero": false}, "axis": {"orient": "left", "values": [-15, -10, -5, 0, 5], "labelExpr": "'' + datum.value", "title": "×10", "titleAngle": 0, "titleAlign": "left", "titleBaseline": "alphabetic", "titleX": 0, "titleY": -4}},
    "color": {"field": "s", "type": "nominal", "scale": {"domain": ["r", "g", "m", "b"], "range": ["#ff0000", "#00ff00", "#ff00ff", "#0000ff"]}, "legend": null},
    "strokeWidth": {"field": "s", "type": "nominal", "scale": {"type": "ordinal", "domain": ["r", "g", "m", "b"], "range": [1.5, 1.2, 1.2, 2]}, "legend": null}
   }},
  {"mark": {"type": "point", "opacity": 0},
   "encoding": {
    "x": {"field": "x", "type": "quantitative", "axis": {"orient": "top", "values": [0, 500, 1000, 1500], "labels": false, "title": "-4", "titleFontSize": 11, "titleAngle": 0, "titleAlign": "left", "titleBaseline": "alphabetic", "titleX": 25, "titleY": -10}},
    "y": {"field": "y", "type": "quantitative", "axis": {"orient": "right", "values": [-15, -10, -5, 0, 5], "labels": false, "title": null}}
   }}
 ],
 "resolve": {"axis": {"x": "independent", "y": "independent"}}
},
{
 "width": 556, "height": 294,
 "title": {"text": "Estimation of the second parameter", "offset": 46},
 "data": {"name": "B"},
 "layer": [
  {"mark": {"type": "line", "clip": true},
   "encoding": {
    "x": {"field": "x", "type": "quantitative", "scale": {"domain": [0, 1500], "nice": false, "zero": false}, "axis": {"orient": "bottom", "values": [0, 500, 1000, 1500], "title": null, "labelExpr": "'' + datum.value"}},
    "y": {"field": "y", "type": "quantitative", "scale": {"domain": [-1.5, 1], "nice": false, "zero": false}, "axis": {"orient": "left", "values": [-1.5, -1, -0.5, 0, 0.5, 1], "labelExpr": "'' + datum.value", "title": "×10", "titleAngle": 0, "titleAlign": "left", "titleBaseline": "alphabetic", "titleX": 0, "titleY": -4}},
    "color": {"field": "s", "type": "nominal", "scale": {"domain": ["r", "g", "m", "b"], "range": ["#ff0000", "#00ff00", "#ff00ff", "#0000ff"]}, "legend": null},
    "strokeWidth": {"field": "s", "type": "nominal", "scale": {"type": "ordinal", "domain": ["r", "g", "m", "b"], "range": [1.5, 1.2, 1.2, 2]}, "legend": null}
   }},
  {"mark": {"type": "point", "opacity": 0},
   "encoding": {
    "x": {"field": "x", "type": "quantitative", "axis": {"orient": "top", "values": [0, 500, 1000, 1500], "labels": false, "title": "-3", "titleFontSize": 11, "titleAngle": 0, "titleAlign": "left", "titleBaseline": "alphabetic", "titleX": 25, "titleY": -10}},
    "y": {"field": "y", "type": "quantitative", "axis": {"orient": "right", "values": [-1.5, -1, -0.5, 0, 0.5, 1], "labels": false, "title": null}}
   }}
 ],
 "resolve": {"axis": {"x": "independent", "y": "independent"}}
},
{
 "width": 547, "height": 289,
 "title": {"text": "Filtration errors", "offset": 48},
 "data": {"name": "C"},
 "layer": [
  {"mark": {"type": "line", "clip": true},
   "encoding": {
    "x": {"field": "x", "type": "quantitative", "scale": {"domain": [0, 1500], "nice": false, "zero": false}, "axis": {"orient": "bottom", "values": [0, 500, 1000, 1500], "title": null, "labelExpr": "'' + datum.value"}},
    "y": {"field": "y", "type": "quantitative", "scale": {"domain": [-4, 5], "nice": false, "zero": false}, "axis": {"orient": "left", "values": [-4, -3, -2, -1, 0, 1, 2, 3, 4, 5], "labelExpr": "'' + datum.value", "title": "×10", "titleAngle": 0, "titleAlign": "left", "titleBaseline": "alphabetic", "titleX": 0, "titleY": -4}},
    "color": {"field": "s", "type": "nominal", "scale": {"domain": ["r", "g", "b", "m"], "range": ["#ff0000", "#00ff00", "#0000ff", "#ff00ff"]}, "legend": null},
    "strokeWidth": {"field": "s", "type": "nominal", "scale": {"type": "ordinal", "domain": ["r", "g", "b", "m"], "range": [1.5, 1.1, 1.8, 1.1]}, "legend": null}
   }},
  {"mark": {"type": "point", "opacity": 0},
   "encoding": {
    "x": {"field": "x", "type": "quantitative", "axis": {"orient": "top", "values": [0, 500, 1000, 1500], "labels": false, "title": "-4", "titleFontSize": 11, "titleAngle": 0, "titleAlign": "left", "titleBaseline": "alphabetic", "titleX": 25, "titleY": -10}},
    "y": {"field": "y", "type": "quantitative", "axis": {"orient": "right", "values": [-4, -3, -2, -1, 0, 1, 2, 3, 4, 5], "labels": false, "title": null}}
   }}
 ],
 "resolve": {"axis": {"x": "independent", "y": "independent"}}
},
{
 "width": 559, "height": 296,
 "title": {"text": "Accumulated numerical error", "offset": 61},
 "data": {"name": "D"},
 "layer": [
  {"mark": {"type": "line", "clip": true},
   "encoding": {
    "x": {"field": "x", "type": "quantitative", "scale": {"domain": [0, 1500], "nice": false, "zero": false}, "axis": {"orient": "bottom", "values": [0, 500, 1000, 1500], "title": null, "labelExpr": "'' + datum.value"}},
    "y": {"field": "y", "type": "quantitative", "scale": {"domain": [0, 0.16], "nice": false, "zero": false}, "axis": {"orient": "left", "values": [0, 0.02, 0.04, 0.06, 0.08, 0.1, 0.12, 0.14, 0.16], "labelExpr": "'' + datum.value", "title": null}},
    "color": {"field": "s", "type": "nominal", "scale": {"domain": ["r", "g", "m", "b"], "range": ["#ff0000", "#00ff00", "#ff00ff", "#0000ff"]}, "legend": null},
    "strokeWidth": {"field": "s", "type": "nominal", "scale": {"type": "ordinal", "domain": ["r", "g", "m", "b"], "range": [1.4, 1.2, 1.2, 1.4]}, "legend": null}
   }},
  {"mark": {"type": "point", "opacity": 0},
   "encoding": {
    "x": {"field": "x", "type": "quantitative", "axis": {"orient": "top", "values": [0, 500, 1000, 1500], "labels": false, "title": null}},
    "y": {"field": "y", "type": "quantitative", "axis": {"orient": "right", "values": [0, 0.02, 0.04, 0.06, 0.08, 0.1, 0.12, 0.14, 0.16], "labels": false, "title": null}}
   }}
 ],
 "resolve": {"axis": {"x": "independent", "y": "independent"}}
}
]
}
